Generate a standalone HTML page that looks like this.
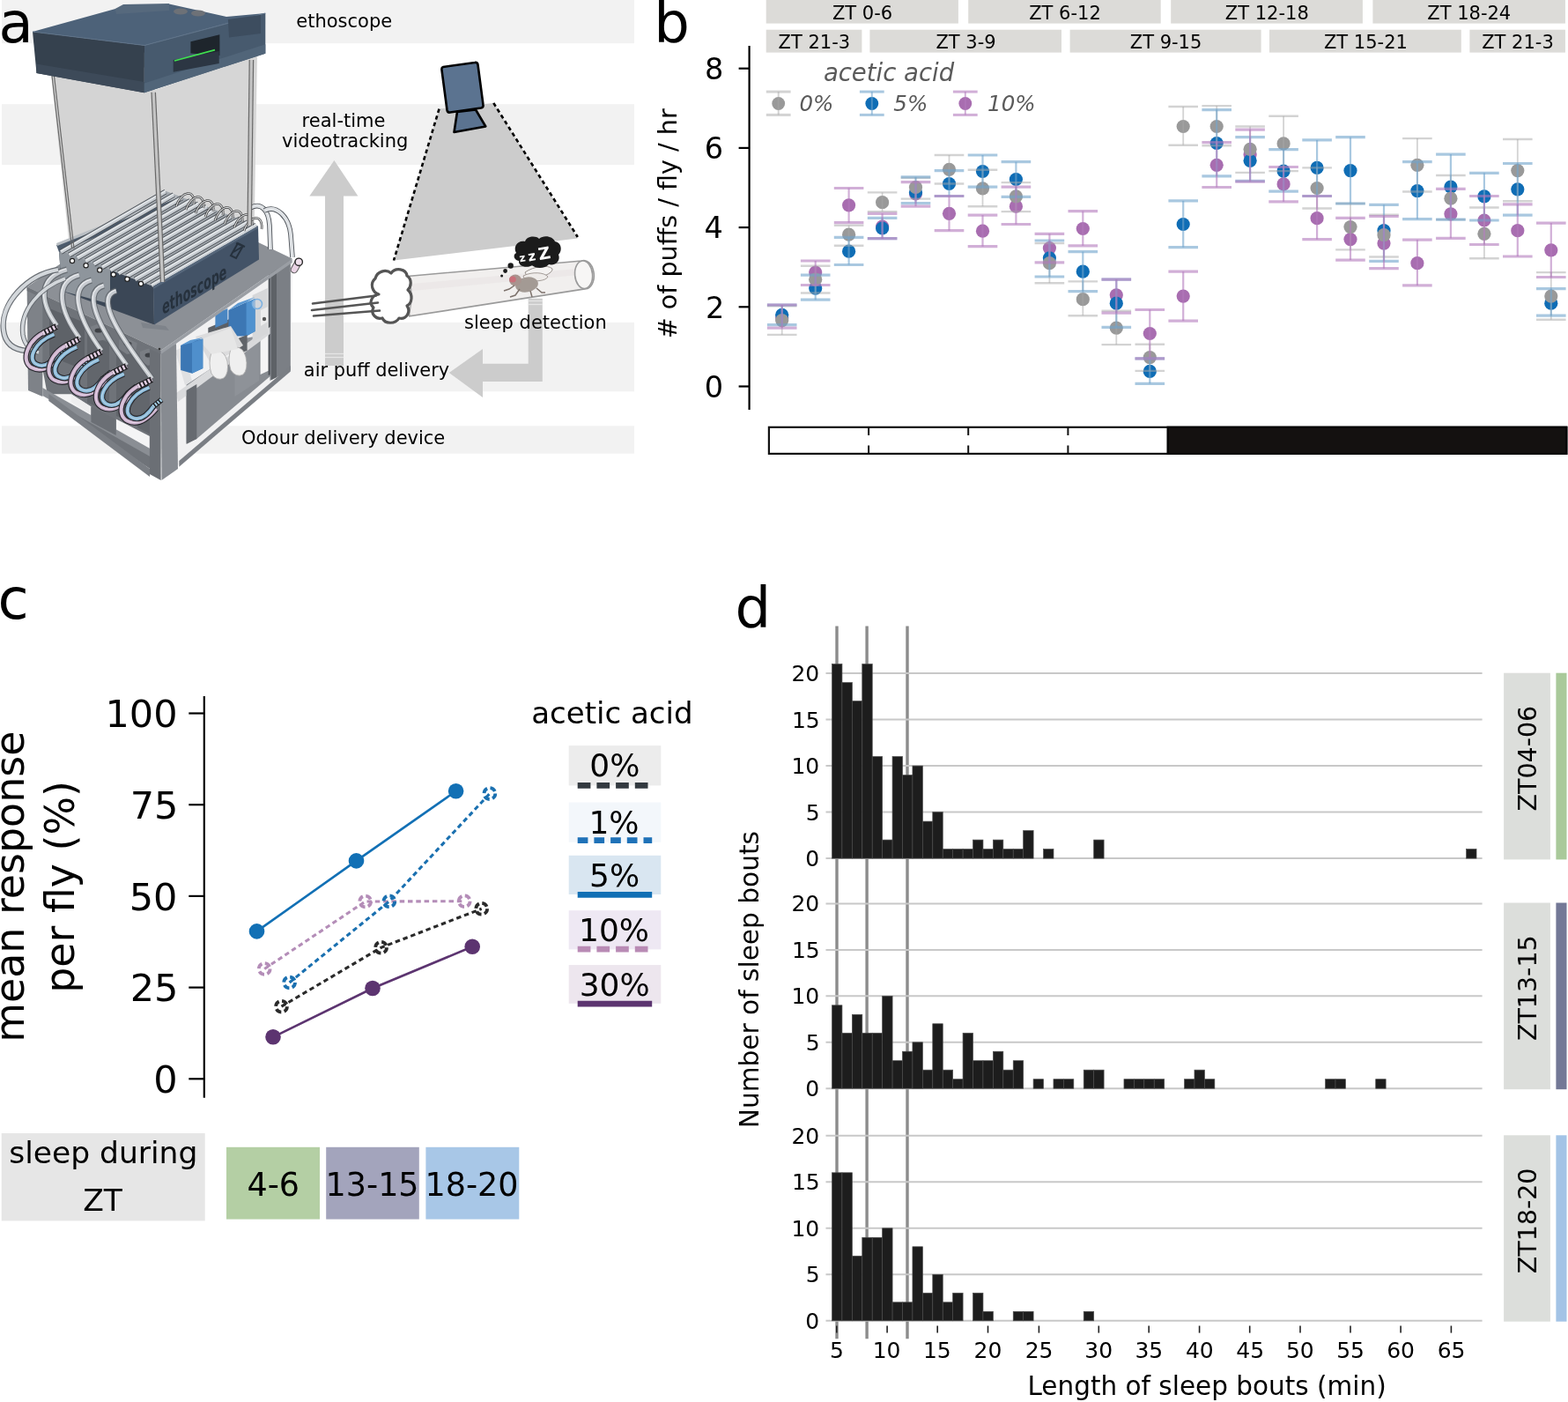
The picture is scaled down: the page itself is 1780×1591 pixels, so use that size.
<!DOCTYPE html>
<html><head><meta charset="utf-8"><title>Figure</title>
<style>
html,body{margin:0;padding:0;background:#fff;}
body{width:1780px;height:1591px;overflow:hidden;}
svg{display:block;}
svg text{font-family:'DejaVu Sans','Liberation Sans',sans-serif;}
</style></head><body>
<svg width="1780" height="1591" viewBox="0 0 1780 1591">
<rect x="0" y="0" width="1780" height="1591" fill="#ffffff"/>
<rect x="2.0" y="0.0" width="718.0" height="49.2" fill="#f2f2f2" />
<rect x="2.0" y="118.2" width="718.0" height="68.8" fill="#f2f2f2" />
<rect x="2.0" y="365.8" width="718.0" height="78.5" fill="#f2f2f2" />
<rect x="2.0" y="483.3" width="718.0" height="31.4" fill="#f2f2f2" />
<text x="-1.54" y="47.64" font-size="64.00" fill="#000" style="" >a</text>
<polygon points="498.5,123.6 560.3,116.9 655.8,270.5 447.0,295.5" fill="#cccccc" />
<line x1="498.5" y1="123.6" x2="447.0" y2="295.5" stroke="#000" stroke-width="2.6" stroke-dasharray="4.5,3.5"/>
<line x1="560.3" y1="116.9" x2="655.8" y2="269.0" stroke="#000" stroke-width="2.6" stroke-dasharray="4.5,3.5"/>
<path d="M503,76 L539,71 Q542,70.5 542.5,73.5 L548.5,119 Q549,122 546,122.5 L511,127.5 Q508,128 507.5,125 L501.5,79.5 Q501,76.5 503,76 Z" fill="#5b7390" stroke="#000" stroke-width="2.6" stroke-linejoin="round"/>
<path d="M519,127 L540,124.5 L551.3,143.5 L515.5,150 Z" fill="#5b7390" stroke="#000" stroke-width="2.6" stroke-linejoin="round"/>
<polygon points="351.3,222.5 379.4,182.0 406.4,222.5 390.0,222.5 390.0,415.0 369.0,415.0 369.0,222.5" fill="#cccccc" />
<polygon points="599.7,338.7 615.8,338.7 615.8,433.0 548.0,433.0 548.0,451.0 509.8,422.9 548.0,396.0 548.0,412.8 599.7,412.8" fill="#cccccc" />
<line x1="599.7" y1="341.5" x2="615.8" y2="341.5" stroke="#e6e6e6" stroke-width="1.2" />
<line x1="599.7" y1="345.5" x2="615.8" y2="345.5" stroke="#e6e6e6" stroke-width="1.2" />
<line x1="369.0" y1="401.5" x2="390.0" y2="401.5" stroke="#e6e6e6" stroke-width="1.2" />
<line x1="369.0" y1="405.5" x2="390.0" y2="405.5" stroke="#e6e6e6" stroke-width="1.2" />
<path d="M462.6,313.5 L660.3,296 A10.5,16 -5 0 1 667,327.4 L464.8,358.9 Z" fill="#f1efee" stroke="#9a9a9a" stroke-width="1.6"/>
<path d="M468,322 L655,305 L657,312 L468,330 Z" fill="#e9e6e5" opacity="0.7"/>
<ellipse cx="662.6" cy="311.7" rx="10" ry="15.8" transform="rotate(-5 662.6 311.7)" fill="#f7f6f5" stroke="#9a9a9a" stroke-width="1.6"/>
<ellipse cx="461" cy="336.4" rx="6" ry="22.5" fill="#f4f3f2" stroke="#aaaaaa" stroke-width="1.4"/>
<path d="M430,334 C423,332 419,322 426,316 C428,308 438,305 444,310 C449,303 461,305 462,313 C468,317 467,325 463,329 C469,334 468,344 462,347 C467,354 461,363 453,361 C449,368 437,368 434,361 C427,363 420,356 424,349 C418,344 422,335 430,334 Z" fill="#ffffff" stroke="#555" stroke-width="3.2" stroke-linejoin="round"/>
<line x1="355.0" y1="344.5" x2="427.0" y2="335.5" stroke="#555" stroke-width="2.6" stroke-linecap="round"/>
<line x1="354.0" y1="352.0" x2="429.0" y2="343.5" stroke="#555" stroke-width="2.6" stroke-linecap="round"/>
<line x1="356.0" y1="358.5" x2="431.0" y2="352.5" stroke="#555" stroke-width="2.6" stroke-linecap="round"/>
<g><path d="M596,309 C606,302 622,300 627,305 C628,310 614,316 600,317 Z" fill="#f4f2f1" stroke="#8f8782" stroke-width="0.9"/><path d="M594,313 C604,308 618,309 622,314 C620,319 606,320 596,318 Z" fill="#efecea" stroke="#8f8782" stroke-width="0.8"/><ellipse cx="598" cy="323" rx="13" ry="8.5" transform="rotate(-10 598 323)" fill="#a39a94"/><ellipse cx="585" cy="318" rx="7" ry="6.5" fill="#a8948f"/><ellipse cx="582" cy="317" rx="3.8" ry="3.6" fill="#c9707a"/><path d="M584,324 l-6,4 l-6,2 M590,328 l-5,7 l-6,2 M602,330 l2,7 M609,327 l6,5 l4,0" fill="none" stroke="#7d726c" stroke-width="1.5"/></g>
<path d="M586,287 C582,280 588,272 596,274 C598,268 608,267 612,271 C617,266 628,268 630,274 C637,275 639,284 634,289 C637,296 630,302 623,300 C619,305 608,305 604,301 C598,305 588,302 589,296 C583,295 582,289 586,287 Z" fill="#1b1b1b"/>
<circle cx="579.7" cy="301.5" r="3.2" fill="#1b1b1b"/>
<circle cx="573.6" cy="307.5" r="2.4" fill="#1b1b1b"/>
<circle cx="569.6" cy="313" r="1.5" fill="#1b1b1b"/>
<g transform="rotate(-10 608 288)" fill="#fff" font-weight="bold" style="font-family:'DejaVu Sans',sans-serif"><text x="589" y="294" font-size="12">z</text><text x="599" y="295" font-size="15">z</text><text x="611" y="296" font-size="19">Z</text></g>
<text x="336.25" y="30.60" font-size="21.00" fill="#000" style="" >ethoscope</text>
<text x="342.61" y="143.60" font-size="21.00" fill="#000" style="" >real-time</text>
<text x="320.07" y="167.40" font-size="21.00" fill="#000" style="" >videotracking</text>
<text x="526.95" y="373.30" font-size="21.00" fill="#000" style="" >sleep detection</text>
<text x="344.85" y="426.90" font-size="20.90" fill="#000" style="" >air puff delivery</text>
<text x="273.99" y="503.80" font-size="21.00" fill="#000" style="" >Odour delivery device</text>
<polygon points="58.0,84.0 175.0,100.0 183.0,330.0 81.0,300.0" fill="#d4d4d4" />
<polygon points="170.0,104.0 292.0,62.0 288.0,300.0 183.0,330.0" fill="#d6d6d6" />
<polygon points="182.0,399.0 332.0,294.0 330.0,422.0 200.0,530.0" fill="#f1f1f2" />
<polygon points="211.6,436.5 293.2,383.2 314.9,380.0 314.9,419.9 223.3,498.0 211.6,503.0" fill="#878b91" />
<polygon points="266.5,386.0 294.0,381.0 294.0,432.0 266.5,450.0" fill="#8e9298" />
<polygon points="295.6,372.5 304.7,368.0 304.7,420.7 295.6,425.0" fill="#f4f4f5" />
<polygon points="304.7,305.0 316.8,300.0 316.8,420.7 304.7,426.0" fill="#4b4f55" />
<polygon points="200.0,446.0 315.0,365.0 316.0,372.0 202.0,456.0" fill="#d9dadc" />
<polygon points="286.6,335.0 303.7,327.0 303.7,378.0 286.6,388.0" fill="#d6d7d9" />
<polygon points="296.0,352.0 304.0,348.0 304.0,365.0 296.0,370.0" fill="#ececed" />
<circle cx="300" cy="362" r="2.2" fill="#555"/>
<polygon points="236.3,372.0 260.5,362.0 260.5,386.0 236.3,396.0" fill="#5c6066" />
<ellipse cx="248.5" cy="380" rx="5.5" ry="6" fill="#dcdcdc" stroke="#444" stroke-width="1"/>
<polygon points="244.4,356.0 258.4,350.0 258.4,366.0 244.4,372.0" fill="#4a86c2" />
<polygon points="259.4,352.0 279.6,343.0 289.6,339.0 289.6,376.0 279.6,381.5 259.4,381.5" fill="#3c77b4" />
<polygon points="279.6,343.0 289.6,339.0 289.6,376.0 279.6,381.5" fill="#5092cf" />
<polygon points="259.4,352.0 270.0,344.0 289.6,337.0 279.6,343.0" fill="#5a98d2" />
<circle cx="292" cy="345" r="5.5" fill="#cfd6de" fill-opacity="0.6" stroke="#7fb2e0" stroke-width="1.6"/>
<polygon points="267.5,385.0 280.6,380.0 280.6,398.0 267.5,402.0" fill="#606469" />
<path d="M222,382 L262,370 L276,392 L240,414 Z" fill="#dcdcdd"/>
<path d="M240,400 Q236,412 240,424 Q246,433 254,429 Q260,424 258,410 Q255,398 246,398 Z" fill="#efefef" stroke="#a9a9a9" stroke-width="0.8"/>
<path d="M262,396 Q258,408 262,420 Q268,429 276,425 Q282,419 279,405 Q276,394 268,394 Z" fill="#efefef" stroke="#a9a9a9" stroke-width="0.8"/>
<path d="M226,386 L262,372 L270,396 L240,402 Z" fill="#e6e6e6"/>
<polygon points="199.0,398.0 207.0,394.0 218.0,432.0 210.0,437.0" fill="#dfe0e2" />
<polygon points="205.1,392.0 216.0,387.0 230.3,384.5 230.3,418.0 218.0,423.7 205.1,420.0" fill="#3c77b4" />
<polygon points="218.0,389.0 230.3,384.5 230.3,418.0 218.0,423.7" fill="#4f8fcc" />
<polygon points="205.1,392.0 216.0,386.0 230.3,383.0 218.0,389.0" fill="#5a98d2" />
<polygon points="211.6,443.0 223.3,436.0 223.3,498.0 211.6,504.0" fill="#666a70" />
<polygon points="306.5,305.0 329.8,293.0 329.8,419.9 306.5,432.0" fill="#7b7f85" />
<polygon points="308.0,306.0 314.0,303.0 314.0,428.0 308.0,431.0" fill="#5e6267" />
<polygon points="203.3,523.0 329.8,415.0 329.8,421.5 203.3,529.7" fill="#7a7e84" />
<polygon points="31.0,326.0 182.0,399.0 182.0,540.0 55.0,454.0" fill="#6f7379" />
<polygon points="48.3,447.3 80.8,447.3 103.4,461.4 103.4,475.0 55.0,454.0" fill="#f4f4f5" />
<polygon points="80.8,447.3 103.4,461.4 103.4,470.0 80.8,456.0" fill="#eeeeef" />
<polygon points="131.7,475.5 169.9,495.0 169.9,510.0 131.7,490.0" fill="#f4f4f5" />
<polygon points="99.0,379.0 124.0,389.0 124.0,467.0 99.0,457.0" fill="#62666c" />
<polygon points="102.0,371.0 113.0,367.0 124.0,373.0 122.0,385.0 111.0,387.0 102.0,381.0" fill="#7a7e84" />
<ellipse cx="112" cy="375" rx="4.5" ry="2.6" fill="#3e4146"/>
<polygon points="132.0,394.0 156.0,404.0 156.0,482.0 132.0,472.0" fill="#62666c" />
<polygon points="135.0,386.0 146.0,382.0 156.0,388.0 154.0,400.0 144.0,402.0 135.0,396.0" fill="#7a7e84" />
<ellipse cx="145" cy="390" rx="4.5" ry="2.6" fill="#3e4146"/>
<polygon points="156.0,407.0 174.0,417.0 174.0,495.0 156.0,485.0" fill="#62666c" />
<polygon points="159.0,399.0 170.0,395.0 174.0,401.0 172.0,413.0 168.0,415.0 159.0,409.0" fill="#7a7e84" />
<ellipse cx="169" cy="403" rx="4.5" ry="2.6" fill="#3e4146"/>
<polygon points="56.0,350.0 96.0,366.0 96.0,420.0 56.0,404.0" fill="#5e6268" />
<polygon points="30.6,325.7 48.3,334.0 48.3,450.0 32.0,443.0" fill="#7e8288" />
<polygon points="48.3,440.0 175.5,512.0 175.5,521.0 48.3,449.0" fill="#8a8e94" />
<polygon points="55.4,447.0 170.0,532.0 170.0,541.0 55.4,455.0" fill="#7a7e84" />
<polygon points="103.4,461.4 131.7,476.0 131.7,494.0 103.4,479.0" fill="#6b6f75" />
<polygon points="169.9,392.0 182.6,398.0 182.6,545.0 169.9,538.0" fill="#6b6f75" />
<polygon points="182.6,398.0 200.0,390.0 202.0,532.0 183.5,545.0" fill="#878b91" />
<polygon points="30.6,325.7 182.6,397.8 331.7,293.6 181.0,221.0" fill="#8c9096" />
<polygon points="30.6,325.7 182.6,397.8 182.6,402.0 30.6,330.0" fill="#6f7379" />
<polygon points="182.6,397.8 331.7,293.6 331.7,298.0 182.6,402.0" fill="#9a9ea4" />
<circle cx="181" cy="396" r="1.3" fill="#333"/>
<polygon points="67.0,284.0 174.0,325.0 175.0,368.5 70.0,330.0" fill="#3b4756" />
<polygon points="67.0,284.0 125.0,306.0 125.0,345.0 70.0,330.0" fill="#8e959c" />
<polygon points="67.0,284.0 186.0,216.0 293.0,256.5 174.0,325.0" fill="#a3a9af" />
<polygon points="64.0,278.0 200.0,224.0 202.0,231.0 67.0,286.0" fill="#4c5b6c" />
<polygon points="64.0,276.0 200.0,222.0 201.0,225.0 65.0,279.0" fill="#b9bec3" />
<polygon points="160.0,366.0 188.0,370.0 192.0,375.0 162.0,372.0" fill="#7e838a" />
<line x1="69.0" y1="286.0" x2="188.0" y2="217.5" stroke="#4b5056" stroke-width="6.0" />
<line x1="69.0" y1="286.0" x2="188.0" y2="217.5" stroke="#c9ced3" stroke-width="4.2" />
<line x1="69.0" y1="285.0" x2="188.0" y2="216.5" stroke="#e9ecee" stroke-width="1.2" />
<line x1="78.4" y1="289.5" x2="197.4" y2="221.0" stroke="#4b5056" stroke-width="6.0" />
<line x1="78.4" y1="289.5" x2="197.4" y2="221.0" stroke="#c9ced3" stroke-width="4.2" />
<line x1="78.4" y1="288.5" x2="197.4" y2="220.0" stroke="#e9ecee" stroke-width="1.2" />
<line x1="87.7" y1="292.9" x2="206.7" y2="224.4" stroke="#4b5056" stroke-width="6.0" />
<line x1="87.7" y1="292.9" x2="206.7" y2="224.4" stroke="#c9ced3" stroke-width="4.2" />
<line x1="87.7" y1="291.9" x2="206.7" y2="223.4" stroke="#e9ecee" stroke-width="1.2" />
<line x1="97.1" y1="296.4" x2="216.1" y2="227.9" stroke="#4b5056" stroke-width="6.0" />
<line x1="97.1" y1="296.4" x2="216.1" y2="227.9" stroke="#c9ced3" stroke-width="4.2" />
<line x1="97.1" y1="295.4" x2="216.1" y2="226.9" stroke="#e9ecee" stroke-width="1.2" />
<line x1="106.5" y1="299.8" x2="225.5" y2="231.3" stroke="#4b5056" stroke-width="6.0" />
<line x1="106.5" y1="299.8" x2="225.5" y2="231.3" stroke="#c9ced3" stroke-width="4.2" />
<line x1="106.5" y1="298.8" x2="225.5" y2="230.3" stroke="#e9ecee" stroke-width="1.2" />
<line x1="115.8" y1="303.3" x2="234.8" y2="234.8" stroke="#4b5056" stroke-width="6.0" />
<line x1="115.8" y1="303.3" x2="234.8" y2="234.8" stroke="#c9ced3" stroke-width="4.2" />
<line x1="115.8" y1="302.3" x2="234.8" y2="233.8" stroke="#e9ecee" stroke-width="1.2" />
<line x1="125.2" y1="306.7" x2="244.2" y2="238.2" stroke="#4b5056" stroke-width="6.0" />
<line x1="125.2" y1="306.7" x2="244.2" y2="238.2" stroke="#c9ced3" stroke-width="4.2" />
<line x1="125.2" y1="305.7" x2="244.2" y2="237.2" stroke="#e9ecee" stroke-width="1.2" />
<line x1="134.5" y1="310.2" x2="253.5" y2="241.7" stroke="#4b5056" stroke-width="6.0" />
<line x1="134.5" y1="310.2" x2="253.5" y2="241.7" stroke="#c9ced3" stroke-width="4.2" />
<line x1="134.5" y1="309.2" x2="253.5" y2="240.7" stroke="#e9ecee" stroke-width="1.2" />
<line x1="143.9" y1="313.6" x2="262.9" y2="245.1" stroke="#4b5056" stroke-width="6.0" />
<line x1="143.9" y1="313.6" x2="262.9" y2="245.1" stroke="#c9ced3" stroke-width="4.2" />
<line x1="143.9" y1="312.6" x2="262.9" y2="244.1" stroke="#e9ecee" stroke-width="1.2" />
<line x1="153.3" y1="317.1" x2="272.3" y2="248.6" stroke="#4b5056" stroke-width="6.0" />
<line x1="153.3" y1="317.1" x2="272.3" y2="248.6" stroke="#c9ced3" stroke-width="4.2" />
<line x1="153.3" y1="316.1" x2="272.3" y2="247.6" stroke="#e9ecee" stroke-width="1.2" />
<line x1="162.6" y1="320.5" x2="281.6" y2="252.0" stroke="#4b5056" stroke-width="6.0" />
<line x1="162.6" y1="320.5" x2="281.6" y2="252.0" stroke="#c9ced3" stroke-width="4.2" />
<line x1="162.6" y1="319.5" x2="281.6" y2="251.0" stroke="#e9ecee" stroke-width="1.2" />
<line x1="172.0" y1="324.0" x2="291.0" y2="255.5" stroke="#4b5056" stroke-width="6.0" />
<line x1="172.0" y1="324.0" x2="291.0" y2="255.5" stroke="#c9ced3" stroke-width="4.2" />
<line x1="172.0" y1="323.0" x2="291.0" y2="254.5" stroke="#e9ecee" stroke-width="1.2" />
<circle cx="82.0" cy="296.0" r="2.6" fill="#fff" stroke="#222" stroke-width="1.2"/>
<circle cx="97.6" cy="301.2" r="2.6" fill="#fff" stroke="#222" stroke-width="1.2"/>
<circle cx="113.2" cy="306.4" r="2.6" fill="#fff" stroke="#222" stroke-width="1.2"/>
<circle cx="128.8" cy="311.6" r="2.6" fill="#fff" stroke="#222" stroke-width="1.2"/>
<circle cx="144.4" cy="316.8" r="2.6" fill="#fff" stroke="#222" stroke-width="1.2"/>
<circle cx="160.0" cy="322.0" r="2.6" fill="#fff" stroke="#222" stroke-width="1.2"/>
<path d="M200,234.0 C206,216.0 222,214.0 220,232.0" fill="none" stroke="#3a3a3a" stroke-width="2.6"/>
<path d="M200,234.0 C206,216.0 222,214.0 220,232.0" fill="none" stroke="#d8dadc" stroke-width="1.2"/>
<path d="M211,238.0 C217,220.0 233,218.0 231,236.0" fill="none" stroke="#3a3a3a" stroke-width="2.6"/>
<path d="M211,238.0 C217,220.0 233,218.0 231,236.0" fill="none" stroke="#d8dadc" stroke-width="1.2"/>
<path d="M222,242.0 C228,224.0 244,222.0 242,240.0" fill="none" stroke="#3a3a3a" stroke-width="2.6"/>
<path d="M222,242.0 C228,224.0 244,222.0 242,240.0" fill="none" stroke="#d8dadc" stroke-width="1.2"/>
<path d="M233,246.0 C239,228.0 255,226.0 253,244.0" fill="none" stroke="#3a3a3a" stroke-width="2.6"/>
<path d="M233,246.0 C239,228.0 255,226.0 253,244.0" fill="none" stroke="#d8dadc" stroke-width="1.2"/>
<path d="M244,250.0 C250,232.0 266,230.0 264,248.0" fill="none" stroke="#3a3a3a" stroke-width="2.6"/>
<path d="M244,250.0 C250,232.0 266,230.0 264,248.0" fill="none" stroke="#d8dadc" stroke-width="1.2"/>
<path d="M255,254.0 C261,236.0 277,234.0 275,252.0" fill="none" stroke="#3a3a3a" stroke-width="2.6"/>
<path d="M255,254.0 C261,236.0 277,234.0 275,252.0" fill="none" stroke="#d8dadc" stroke-width="1.2"/>
<path d="M266,258.0 C272,240.0 288,238.0 286,256.0" fill="none" stroke="#3a3a3a" stroke-width="2.6"/>
<path d="M266,258.0 C272,240.0 288,238.0 286,256.0" fill="none" stroke="#d8dadc" stroke-width="1.2"/>
<path d="M277,262.0 C283,244.0 299,242.0 297,260.0" fill="none" stroke="#3a3a3a" stroke-width="2.6"/>
<path d="M277,262.0 C283,244.0 299,242.0 297,260.0" fill="none" stroke="#d8dadc" stroke-width="1.2"/>
<polygon points="174.0,325.0 293.0,256.5 294.0,294.4 175.0,368.5" fill="#435367" />
<polygon points="174.0,325.0 293.0,256.5 293.0,259.0 174.0,328.0" fill="#56677b" />
<text transform="translate(185,357) rotate(-30) skewX(-22) scale(1,1.35)" font-size="14.5" font-weight="bold" fill="#26313d" style="font-style:italic">ethoscope</text>
<path d="M262,290 l8,-14 l6,3 l-8,14 z M268,276 l10,4 M265,286 l10,-6" stroke="#26313d" stroke-width="2" fill="none"/>
<path d="M76,306 C46,314 42.5,339.4 64.5,369.4" fill="none" stroke="#5d6268" stroke-width="7" opacity="0.8"/>
<path d="M76,306 C46,314 42.5,339.4 64.5,369.4" fill="none" stroke="#cfd4d8" stroke-width="4.8" opacity="0.92"/>
<path d="M76,306 C46,314 42.5,339.4 64.5,369.4" fill="none" stroke="#eef0f2" stroke-width="1.2" opacity="0.9" transform="translate(-0.8,-1)"/>
<path d="M90,312 C60,320 68.3,353.7 90.3,383.7" fill="none" stroke="#5d6268" stroke-width="7" opacity="0.8"/>
<path d="M90,312 C60,320 68.3,353.7 90.3,383.7" fill="none" stroke="#cfd4d8" stroke-width="4.8" opacity="0.92"/>
<path d="M90,312 C60,320 68.3,353.7 90.3,383.7" fill="none" stroke="#eef0f2" stroke-width="1.2" opacity="0.9" transform="translate(-0.8,-1)"/>
<path d="M104,318 C74,326 93.2,368 115.2,398" fill="none" stroke="#5d6268" stroke-width="7" opacity="0.8"/>
<path d="M104,318 C74,326 93.2,368 115.2,398" fill="none" stroke="#cfd4d8" stroke-width="4.8" opacity="0.92"/>
<path d="M104,318 C74,326 93.2,368 115.2,398" fill="none" stroke="#eef0f2" stroke-width="1.2" opacity="0.9" transform="translate(-0.8,-1)"/>
<path d="M118,324 C88,332 121.80000000000001,384.3 143.8,414.3" fill="none" stroke="#5d6268" stroke-width="7" opacity="0.8"/>
<path d="M118,324 C88,332 121.80000000000001,384.3 143.8,414.3" fill="none" stroke="#cfd4d8" stroke-width="4.8" opacity="0.92"/>
<path d="M118,324 C88,332 121.80000000000001,384.3 143.8,414.3" fill="none" stroke="#eef0f2" stroke-width="1.2" opacity="0.9" transform="translate(-0.8,-1)"/>
<path d="M132,330 C102,338 150.5,399.6 172.5,429.6" fill="none" stroke="#5d6268" stroke-width="7" opacity="0.8"/>
<path d="M132,330 C102,338 150.5,399.6 172.5,429.6" fill="none" stroke="#cfd4d8" stroke-width="4.8" opacity="0.92"/>
<path d="M132,330 C102,338 150.5,399.6 172.5,429.6" fill="none" stroke="#eef0f2" stroke-width="1.2" opacity="0.9" transform="translate(-0.8,-1)"/>
<path d="M66,306 C30,312 0,345 4,375 C6,392 18,397 30,398" fill="none" stroke="#686d73" stroke-width="6.5"/>
<path d="M66,306 C30,312 0,345 4,375 C6,392 18,397 30,398" fill="none" stroke="#d3d7db" stroke-width="4.2"/>
<path d="M74,316 C46,326 22,352 26,380 C28,392 36,398 44,400" fill="none" stroke="#686d73" stroke-width="5.5"/>
<path d="M74,316 C46,326 22,352 26,380 C28,392 36,398 44,400" fill="none" stroke="#d3d7db" stroke-width="3.5"/>
<path d="M54.5,375.4 C30.5,384.4 22.5,410.4 36.5,417.4 C48.5,423.4 60.5,414.4 69.5,403.4" fill="none" stroke="#25262b" stroke-width="6.4"/>
<path d="M54.5,375.4 C30.5,384.4 22.5,410.4 36.5,417.4 C48.5,423.4 60.5,414.4 69.5,403.4" fill="none" stroke="#cdb3cf" stroke-width="4.2"/>
<path d="M54.5,375.4 C30.5,384.4 22.5,410.4 36.5,417.4 C48.5,423.4 60.5,414.4 69.5,403.4" fill="none" stroke="#ffffff" stroke-width="1" opacity="0.45"/>
<path d="M61.5,379.4 C38.5,388.4 30.5,408.4 41.5,413.4 C51.5,418.4 60.5,409.4 66.5,400.4" fill="none" stroke="#25262b" stroke-width="6.4"/>
<path d="M61.5,379.4 C38.5,388.4 30.5,408.4 41.5,413.4 C51.5,418.4 60.5,409.4 66.5,400.4" fill="none" stroke="#8ab9d8" stroke-width="4.2"/>
<path d="M61.5,379.4 C38.5,388.4 30.5,408.4 41.5,413.4 C51.5,418.4 60.5,409.4 66.5,400.4" fill="none" stroke="#ffffff" stroke-width="1" opacity="0.45"/>
<path d="M48.5,378.4 l16,-8" stroke="#1f1f22" stroke-width="7"/>
<path d="M48.5,378.4 l16,-8" stroke="#e4d0e4" stroke-width="5" stroke-dasharray="2.5,1.8"/>
<path d="M65.5,401.4 l10,-8" stroke="#1f1f22" stroke-width="6"/>
<path d="M65.5,401.4 l10,-8" stroke="#a6d0e6" stroke-width="4" stroke-dasharray="2,1.5"/>
<path d="M80.3,389.7 C56.3,398.7 48.3,424.7 62.3,431.7 C74.3,437.7 86.3,428.7 95.3,417.7" fill="none" stroke="#25262b" stroke-width="6.4"/>
<path d="M80.3,389.7 C56.3,398.7 48.3,424.7 62.3,431.7 C74.3,437.7 86.3,428.7 95.3,417.7" fill="none" stroke="#cdb3cf" stroke-width="4.2"/>
<path d="M80.3,389.7 C56.3,398.7 48.3,424.7 62.3,431.7 C74.3,437.7 86.3,428.7 95.3,417.7" fill="none" stroke="#ffffff" stroke-width="1" opacity="0.45"/>
<path d="M87.3,393.7 C64.3,402.7 56.3,422.7 67.3,427.7 C77.3,432.7 86.3,423.7 92.3,414.7" fill="none" stroke="#25262b" stroke-width="6.4"/>
<path d="M87.3,393.7 C64.3,402.7 56.3,422.7 67.3,427.7 C77.3,432.7 86.3,423.7 92.3,414.7" fill="none" stroke="#8ab9d8" stroke-width="4.2"/>
<path d="M87.3,393.7 C64.3,402.7 56.3,422.7 67.3,427.7 C77.3,432.7 86.3,423.7 92.3,414.7" fill="none" stroke="#ffffff" stroke-width="1" opacity="0.45"/>
<path d="M74.3,392.7 l16,-8" stroke="#1f1f22" stroke-width="7"/>
<path d="M74.3,392.7 l16,-8" stroke="#e4d0e4" stroke-width="5" stroke-dasharray="2.5,1.8"/>
<path d="M91.3,415.7 l10,-8" stroke="#1f1f22" stroke-width="6"/>
<path d="M91.3,415.7 l10,-8" stroke="#a6d0e6" stroke-width="4" stroke-dasharray="2,1.5"/>
<path d="M105.2,404 C81.2,413 73.2,439 87.2,446 C99.2,452 111.2,443 120.2,432" fill="none" stroke="#25262b" stroke-width="6.4"/>
<path d="M105.2,404 C81.2,413 73.2,439 87.2,446 C99.2,452 111.2,443 120.2,432" fill="none" stroke="#cdb3cf" stroke-width="4.2"/>
<path d="M105.2,404 C81.2,413 73.2,439 87.2,446 C99.2,452 111.2,443 120.2,432" fill="none" stroke="#ffffff" stroke-width="1" opacity="0.45"/>
<path d="M112.2,408 C89.2,417 81.2,437 92.2,442 C102.2,447 111.2,438 117.2,429" fill="none" stroke="#25262b" stroke-width="6.4"/>
<path d="M112.2,408 C89.2,417 81.2,437 92.2,442 C102.2,447 111.2,438 117.2,429" fill="none" stroke="#8ab9d8" stroke-width="4.2"/>
<path d="M112.2,408 C89.2,417 81.2,437 92.2,442 C102.2,447 111.2,438 117.2,429" fill="none" stroke="#ffffff" stroke-width="1" opacity="0.45"/>
<path d="M99.2,407 l16,-8" stroke="#1f1f22" stroke-width="7"/>
<path d="M99.2,407 l16,-8" stroke="#e4d0e4" stroke-width="5" stroke-dasharray="2.5,1.8"/>
<path d="M116.2,430 l10,-8" stroke="#1f1f22" stroke-width="6"/>
<path d="M116.2,430 l10,-8" stroke="#a6d0e6" stroke-width="4" stroke-dasharray="2,1.5"/>
<path d="M133.8,420.3 C109.8,429.3 101.8,455.3 115.8,462.3 C127.8,468.3 139.8,459.3 148.8,448.3" fill="none" stroke="#25262b" stroke-width="6.4"/>
<path d="M133.8,420.3 C109.8,429.3 101.8,455.3 115.8,462.3 C127.8,468.3 139.8,459.3 148.8,448.3" fill="none" stroke="#cdb3cf" stroke-width="4.2"/>
<path d="M133.8,420.3 C109.8,429.3 101.8,455.3 115.8,462.3 C127.8,468.3 139.8,459.3 148.8,448.3" fill="none" stroke="#ffffff" stroke-width="1" opacity="0.45"/>
<path d="M140.8,424.3 C117.8,433.3 109.8,453.3 120.8,458.3 C130.8,463.3 139.8,454.3 145.8,445.3" fill="none" stroke="#25262b" stroke-width="6.4"/>
<path d="M140.8,424.3 C117.8,433.3 109.8,453.3 120.8,458.3 C130.8,463.3 139.8,454.3 145.8,445.3" fill="none" stroke="#8ab9d8" stroke-width="4.2"/>
<path d="M140.8,424.3 C117.8,433.3 109.8,453.3 120.8,458.3 C130.8,463.3 139.8,454.3 145.8,445.3" fill="none" stroke="#ffffff" stroke-width="1" opacity="0.45"/>
<path d="M127.8,423.3 l16,-8" stroke="#1f1f22" stroke-width="7"/>
<path d="M127.8,423.3 l16,-8" stroke="#e4d0e4" stroke-width="5" stroke-dasharray="2.5,1.8"/>
<path d="M144.8,446.3 l10,-8" stroke="#1f1f22" stroke-width="6"/>
<path d="M144.8,446.3 l10,-8" stroke="#a6d0e6" stroke-width="4" stroke-dasharray="2,1.5"/>
<path d="M162.5,435.6 C138.5,444.6 130.5,470.6 144.5,477.6 C156.5,483.6 168.5,474.6 177.5,463.6" fill="none" stroke="#25262b" stroke-width="6.4"/>
<path d="M162.5,435.6 C138.5,444.6 130.5,470.6 144.5,477.6 C156.5,483.6 168.5,474.6 177.5,463.6" fill="none" stroke="#cdb3cf" stroke-width="4.2"/>
<path d="M162.5,435.6 C138.5,444.6 130.5,470.6 144.5,477.6 C156.5,483.6 168.5,474.6 177.5,463.6" fill="none" stroke="#ffffff" stroke-width="1" opacity="0.45"/>
<path d="M169.5,439.6 C146.5,448.6 138.5,468.6 149.5,473.6 C159.5,478.6 168.5,469.6 174.5,460.6" fill="none" stroke="#25262b" stroke-width="6.4"/>
<path d="M169.5,439.6 C146.5,448.6 138.5,468.6 149.5,473.6 C159.5,478.6 168.5,469.6 174.5,460.6" fill="none" stroke="#8ab9d8" stroke-width="4.2"/>
<path d="M169.5,439.6 C146.5,448.6 138.5,468.6 149.5,473.6 C159.5,478.6 168.5,469.6 174.5,460.6" fill="none" stroke="#ffffff" stroke-width="1" opacity="0.45"/>
<path d="M156.5,438.6 l16,-8" stroke="#1f1f22" stroke-width="7"/>
<path d="M156.5,438.6 l16,-8" stroke="#e4d0e4" stroke-width="5" stroke-dasharray="2.5,1.8"/>
<path d="M173.5,461.6 l10,-8" stroke="#1f1f22" stroke-width="6"/>
<path d="M173.5,461.6 l10,-8" stroke="#a6d0e6" stroke-width="4" stroke-dasharray="2,1.5"/>
<path d="M334,306 l5,-9" stroke="#5a5a5a" stroke-width="8.5" stroke-linecap="round"/>
<path d="M334,306 l5,-9" stroke="#e9d3e4" stroke-width="6.5" stroke-linecap="round"/>
<circle cx="339.2" cy="297.3" r="4.2" fill="#efe0ec" stroke="#2a2a2a" stroke-width="1.4"/>
<path d="M284,236 C296,229 305,238 306,256 L307,283" fill="none" stroke="#4d5258" stroke-width="5.6"/>
<path d="M284,236 C296,229 305,238 306,256 L307,283" fill="none" stroke="#dfe2e5" stroke-width="3.8"/>
<path d="M300,239 C314,232 328,246 330,266 L332,292" fill="none" stroke="#4d5258" stroke-width="5.6"/>
<path d="M300,239 C314,232 328,246 330,266 L332,292" fill="none" stroke="#dfe2e5" stroke-width="3.8"/>
<polygon points="172,104.8 176.4,104.8 186.8,320 182.4,320" fill="#c4c4c4"/>
<polygon points="283.2,68 287.6,68 285.4,256 281,256" fill="#c4c4c4"/>
<line x1="59.0" y1="86.0" x2="81.6" y2="282.0" stroke="#686868" stroke-width="1.2" />
<line x1="61.5" y1="86.0" x2="84.0" y2="282.0" stroke="#686868" stroke-width="1.2" />
<line x1="172.0" y1="104.8" x2="182.4" y2="320.0" stroke="#686868" stroke-width="1.2" />
<line x1="176.4" y1="104.8" x2="186.8" y2="320.0" stroke="#686868" stroke-width="1.2" />
<line x1="283.2" y1="68.0" x2="281.0" y2="256.0" stroke="#686868" stroke-width="1.2" />
<line x1="287.6" y1="68.0" x2="285.4" y2="256.0" stroke="#686868" stroke-width="1.2" />
<polygon points="37.0,36.0 131.0,10.0 192.0,4.5 257.0,19.0 301.3,15.0 164.0,51.5" fill="#4d6279" />
<polygon points="37.0,36.0 164.0,51.5 163.8,105.2 41.5,83.0" fill="#35414e" />
<polygon points="41.0,72.4 163.8,93.0 163.8,105.2 41.5,83.0" fill="#3d4a59" />
<polygon points="164.0,51.5 301.3,15.0 301.3,60.7 163.8,105.2" fill="#475a6e" />
<polygon points="163.8,94.4 301.3,50.3 301.3,60.7 163.8,105.2" fill="#516579" />
<line x1="37.0" y1="36.0" x2="164.0" y2="51.5" stroke="#5e7288" stroke-width="1.2" />
<line x1="164.0" y1="51.5" x2="301.3" y2="15.0" stroke="#5e7288" stroke-width="1.2" />
<polygon points="216.4,47.2 249.4,39.3 249.4,62.9 216.4,60.6" fill="#1e252c" />
<polygon points="196.7,68.0 248.7,58.0 248.7,72.0 196.7,81.8" fill="#2c3643" />
<line x1="198.0" y1="69.0" x2="244.0" y2="56.6" stroke="#40e050" stroke-width="1.8" />
<polygon points="258.9,22.0 296.0,17.0 296.0,38.0 260.0,42.5" fill="#3d4d5f" />
<polygon points="130.7,10.0 140.0,5.0 192.0,4.0 192.0,12.0 132.0,16.0" fill="#56697d" />
<ellipse cx="205" cy="13" rx="8" ry="3.5" fill="#6d7177"/><ellipse cx="225" cy="15" rx="8" ry="3.5" fill="#6d7177"/>
<text x="742.24" y="47.84" font-size="64.00" fill="#000" style="" >b</text>
<rect x="869.7" y="0.0" width="218.2" height="26.6" fill="#dcdbd8" />
<text x="944.91" y="21.60" font-size="21.00" fill="#000" style="" >ZT 0-6</text>
<rect x="1099.2" y="0.0" width="218.5" height="26.6" fill="#dcdbd8" />
<text x="1168.24" y="21.60" font-size="21.00" fill="#000" style="" >ZT 6-12</text>
<rect x="1329.2" y="0.0" width="217.7" height="26.6" fill="#dcdbd8" />
<text x="1390.85" y="21.60" font-size="21.00" fill="#000" style="" >ZT 12-18</text>
<rect x="1558.4" y="0.0" width="218.5" height="26.6" fill="#dcdbd8" />
<text x="1620.32" y="21.60" font-size="21.00" fill="#000" style="" >ZT 18-24</text>
<rect x="869.7" y="33.7" width="108.7" height="25.9" fill="#dcdbd8" />
<text x="883.62" y="54.60" font-size="21.00" fill="#000" style="" >ZT 21-3</text>
<rect x="987.4" y="33.7" width="217.6" height="25.9" fill="#dcdbd8" />
<text x="1062.39" y="54.60" font-size="21.00" fill="#000" style="" >ZT 3-9</text>
<rect x="1214.6" y="33.7" width="217.0" height="25.9" fill="#dcdbd8" />
<text x="1282.75" y="54.60" font-size="21.00" fill="#000" style="" >ZT 9-15</text>
<rect x="1441.0" y="33.7" width="217.8" height="25.9" fill="#dcdbd8" />
<text x="1502.94" y="54.60" font-size="21.00" fill="#000" style="" >ZT 15-21</text>
<rect x="1668.4" y="33.7" width="108.5" height="25.9" fill="#dcdbd8" />
<text x="1682.23" y="54.60" font-size="21.00" fill="#000" style="" >ZT 21-3</text>
<line x1="850.6" y1="52.0" x2="850.6" y2="465.0" stroke="#000" stroke-width="2.2" />
<line x1="838.6" y1="438.5" x2="851.0" y2="438.5" stroke="#000" stroke-width="2.2" />
<text x="799.80" y="450.69" font-size="33.50" fill="#000" style="" >0</text>
<line x1="838.6" y1="348.3" x2="851.0" y2="348.3" stroke="#000" stroke-width="2.2" />
<text x="800.89" y="360.74" font-size="33.50" fill="#000" style="" >2</text>
<line x1="838.6" y1="258.1" x2="851.0" y2="258.1" stroke="#000" stroke-width="2.2" />
<text x="799.47" y="270.33" font-size="33.50" fill="#000" style="" >4</text>
<line x1="838.6" y1="167.9" x2="851.0" y2="167.9" stroke="#000" stroke-width="2.2" />
<text x="799.72" y="180.09" font-size="33.50" fill="#000" style="" >6</text>
<line x1="838.6" y1="77.7" x2="851.0" y2="77.7" stroke="#000" stroke-width="2.2" />
<text x="799.89" y="89.89" font-size="33.50" fill="#000" style="" >8</text>
<text transform="translate(767.84,384.32) rotate(-90)" x="0" y="0" font-size="28.60" fill="#000"># of puffs / fly / hr</text>
<circle cx="887.7" cy="360.9" r="7.6" fill="#a86db0"/>
<circle cx="925.7" cy="309.1" r="7.6" fill="#a86db0"/>
<circle cx="963.6" cy="232.8" r="7.6" fill="#a86db0"/>
<circle cx="1001.6" cy="257.2" r="7.6" fill="#a86db0"/>
<circle cx="1039.5" cy="219.8" r="7.6" fill="#a86db0"/>
<circle cx="1077.5" cy="242.3" r="7.6" fill="#a86db0"/>
<circle cx="1115.5" cy="262.2" r="7.6" fill="#a86db0"/>
<circle cx="1153.4" cy="234.2" r="7.6" fill="#a86db0"/>
<circle cx="1191.4" cy="281.6" r="7.6" fill="#a86db0"/>
<circle cx="1229.3" cy="259.5" r="7.6" fill="#a86db0"/>
<circle cx="1267.3" cy="334.8" r="7.6" fill="#a86db0"/>
<circle cx="1305.3" cy="378.5" r="7.6" fill="#a86db0"/>
<circle cx="1343.2" cy="336.1" r="7.6" fill="#a86db0"/>
<circle cx="1381.2" cy="187.3" r="7.6" fill="#a86db0"/>
<circle cx="1419.1" cy="175.6" r="7.6" fill="#a86db0"/>
<circle cx="1457.1" cy="208.9" r="7.6" fill="#a86db0"/>
<circle cx="1495.1" cy="247.7" r="7.6" fill="#a86db0"/>
<circle cx="1533.0" cy="271.6" r="7.6" fill="#a86db0"/>
<circle cx="1571.0" cy="276.1" r="7.6" fill="#a86db0"/>
<circle cx="1608.9" cy="298.7" r="7.6" fill="#a86db0"/>
<circle cx="1646.9" cy="242.8" r="7.6" fill="#a86db0"/>
<circle cx="1684.9" cy="250.0" r="7.6" fill="#a86db0"/>
<circle cx="1722.8" cy="261.7" r="7.6" fill="#a86db0"/>
<circle cx="1760.8" cy="283.8" r="7.6" fill="#a86db0"/>
<circle cx="887.7" cy="357.3" r="7.6" fill="#0f6db5"/>
<circle cx="925.7" cy="327.1" r="7.6" fill="#0f6db5"/>
<circle cx="963.6" cy="285.2" r="7.6" fill="#0f6db5"/>
<circle cx="1001.6" cy="259.0" r="7.6" fill="#0f6db5"/>
<circle cx="1039.5" cy="218.4" r="7.6" fill="#0f6db5"/>
<circle cx="1077.5" cy="208.5" r="7.6" fill="#0f6db5"/>
<circle cx="1115.5" cy="194.5" r="7.6" fill="#0f6db5"/>
<circle cx="1153.4" cy="203.5" r="7.6" fill="#0f6db5"/>
<circle cx="1191.4" cy="292.8" r="7.6" fill="#0f6db5"/>
<circle cx="1229.3" cy="308.2" r="7.6" fill="#0f6db5"/>
<circle cx="1267.3" cy="344.2" r="7.6" fill="#0f6db5"/>
<circle cx="1305.3" cy="421.4" r="7.6" fill="#0f6db5"/>
<circle cx="1343.2" cy="254.5" r="7.6" fill="#0f6db5"/>
<circle cx="1381.2" cy="162.5" r="7.6" fill="#0f6db5"/>
<circle cx="1419.1" cy="182.3" r="7.6" fill="#0f6db5"/>
<circle cx="1457.1" cy="194.1" r="7.6" fill="#0f6db5"/>
<circle cx="1495.1" cy="190.4" r="7.6" fill="#0f6db5"/>
<circle cx="1533.0" cy="193.6" r="7.6" fill="#0f6db5"/>
<circle cx="1571.0" cy="261.7" r="7.6" fill="#0f6db5"/>
<circle cx="1608.9" cy="216.6" r="7.6" fill="#0f6db5"/>
<circle cx="1646.9" cy="212.1" r="7.6" fill="#0f6db5"/>
<circle cx="1684.9" cy="222.9" r="7.6" fill="#0f6db5"/>
<circle cx="1722.8" cy="214.8" r="7.6" fill="#0f6db5"/>
<circle cx="1760.8" cy="344.2" r="7.6" fill="#0f6db5"/>
<circle cx="887.7" cy="363.6" r="7.6" fill="#999999"/>
<circle cx="925.7" cy="317.2" r="7.6" fill="#999999"/>
<circle cx="963.6" cy="266.2" r="7.6" fill="#999999"/>
<circle cx="1001.6" cy="229.7" r="7.6" fill="#999999"/>
<circle cx="1039.5" cy="212.5" r="7.6" fill="#999999"/>
<circle cx="1077.5" cy="192.3" r="7.6" fill="#999999"/>
<circle cx="1115.5" cy="213.9" r="7.6" fill="#999999"/>
<circle cx="1153.4" cy="222.9" r="7.6" fill="#999999"/>
<circle cx="1191.4" cy="298.7" r="7.6" fill="#999999"/>
<circle cx="1229.3" cy="339.7" r="7.6" fill="#999999"/>
<circle cx="1267.3" cy="372.2" r="7.6" fill="#999999"/>
<circle cx="1305.3" cy="405.6" r="7.6" fill="#999999"/>
<circle cx="1343.2" cy="143.5" r="7.6" fill="#999999"/>
<circle cx="1381.2" cy="143.5" r="7.6" fill="#999999"/>
<circle cx="1419.1" cy="169.3" r="7.6" fill="#999999"/>
<circle cx="1457.1" cy="162.9" r="7.6" fill="#999999"/>
<circle cx="1495.1" cy="213.5" r="7.6" fill="#999999"/>
<circle cx="1533.0" cy="257.6" r="7.6" fill="#999999"/>
<circle cx="1571.0" cy="266.7" r="7.6" fill="#999999"/>
<circle cx="1608.9" cy="187.3" r="7.6" fill="#999999"/>
<circle cx="1646.9" cy="225.2" r="7.6" fill="#999999"/>
<circle cx="1684.9" cy="265.3" r="7.6" fill="#999999"/>
<circle cx="1722.8" cy="193.6" r="7.6" fill="#999999"/>
<circle cx="1760.8" cy="336.1" r="7.6" fill="#999999"/>
<g stroke="#a8a8a8" stroke-opacity="0.5"><line x1="887.7" y1="347.4" x2="887.7" y2="379.9" stroke-width="1.8"/><line x1="870.9" y1="347.4" x2="904.5" y2="347.4" stroke-width="2.4"/><line x1="870.9" y1="379.9" x2="904.5" y2="379.9" stroke-width="2.4"/></g>
<g stroke="#a8a8a8" stroke-opacity="0.5"><line x1="925.7" y1="301.8" x2="925.7" y2="332.5" stroke-width="1.8"/><line x1="908.9" y1="301.8" x2="942.5" y2="301.8" stroke-width="2.4"/><line x1="908.9" y1="332.5" x2="942.5" y2="332.5" stroke-width="2.4"/></g>
<g stroke="#a8a8a8" stroke-opacity="0.5"><line x1="963.6" y1="255.8" x2="963.6" y2="278.8" stroke-width="1.8"/><line x1="946.8" y1="255.8" x2="980.4" y2="255.8" stroke-width="2.4"/><line x1="946.8" y1="278.8" x2="980.4" y2="278.8" stroke-width="2.4"/></g>
<g stroke="#a8a8a8" stroke-opacity="0.5"><line x1="1001.6" y1="218.4" x2="1001.6" y2="240.1" stroke-width="1.8"/><line x1="984.8" y1="218.4" x2="1018.4" y2="218.4" stroke-width="2.4"/><line x1="984.8" y1="240.1" x2="1018.4" y2="240.1" stroke-width="2.4"/></g>
<g stroke="#a8a8a8" stroke-opacity="0.5"><line x1="1039.5" y1="201.7" x2="1039.5" y2="225.6" stroke-width="1.8"/><line x1="1022.7" y1="201.7" x2="1056.3" y2="201.7" stroke-width="2.4"/><line x1="1022.7" y1="225.6" x2="1056.3" y2="225.6" stroke-width="2.4"/></g>
<g stroke="#a8a8a8" stroke-opacity="0.5"><line x1="1077.5" y1="176.0" x2="1077.5" y2="208.5" stroke-width="1.8"/><line x1="1060.7" y1="176.0" x2="1094.3" y2="176.0" stroke-width="2.4"/><line x1="1060.7" y1="208.5" x2="1094.3" y2="208.5" stroke-width="2.4"/></g>
<g stroke="#a8a8a8" stroke-opacity="0.5"><line x1="1115.5" y1="192.7" x2="1115.5" y2="234.2" stroke-width="1.8"/><line x1="1098.7" y1="192.7" x2="1132.3" y2="192.7" stroke-width="2.4"/><line x1="1098.7" y1="234.2" x2="1132.3" y2="234.2" stroke-width="2.4"/></g>
<g stroke="#a8a8a8" stroke-opacity="0.5"><line x1="1153.4" y1="207.1" x2="1153.4" y2="240.1" stroke-width="1.8"/><line x1="1136.6" y1="207.1" x2="1170.2" y2="207.1" stroke-width="2.4"/><line x1="1136.6" y1="240.1" x2="1170.2" y2="240.1" stroke-width="2.4"/></g>
<g stroke="#a8a8a8" stroke-opacity="0.5"><line x1="1191.4" y1="276.1" x2="1191.4" y2="321.2" stroke-width="1.8"/><line x1="1174.6" y1="276.1" x2="1208.2" y2="276.1" stroke-width="2.4"/><line x1="1174.6" y1="321.2" x2="1208.2" y2="321.2" stroke-width="2.4"/></g>
<g stroke="#a8a8a8" stroke-opacity="0.5"><line x1="1229.3" y1="319.4" x2="1229.3" y2="358.2" stroke-width="1.8"/><line x1="1212.5" y1="319.4" x2="1246.1" y2="319.4" stroke-width="2.4"/><line x1="1212.5" y1="358.2" x2="1246.1" y2="358.2" stroke-width="2.4"/></g>
<g stroke="#a8a8a8" stroke-opacity="0.5"><line x1="1267.3" y1="352.8" x2="1267.3" y2="391.1" stroke-width="1.8"/><line x1="1250.5" y1="352.8" x2="1284.1" y2="352.8" stroke-width="2.4"/><line x1="1250.5" y1="391.1" x2="1284.1" y2="391.1" stroke-width="2.4"/></g>
<g stroke="#a8a8a8" stroke-opacity="0.5"><line x1="1305.3" y1="390.7" x2="1305.3" y2="420.9" stroke-width="1.8"/><line x1="1288.5" y1="390.7" x2="1322.1" y2="390.7" stroke-width="2.4"/><line x1="1288.5" y1="420.9" x2="1322.1" y2="420.9" stroke-width="2.4"/></g>
<g stroke="#a8a8a8" stroke-opacity="0.5"><line x1="1343.2" y1="121.0" x2="1343.2" y2="164.7" stroke-width="1.8"/><line x1="1326.4" y1="121.0" x2="1360.0" y2="121.0" stroke-width="2.4"/><line x1="1326.4" y1="164.7" x2="1360.0" y2="164.7" stroke-width="2.4"/></g>
<g stroke="#a8a8a8" stroke-opacity="0.5"><line x1="1381.2" y1="120.1" x2="1381.2" y2="165.2" stroke-width="1.8"/><line x1="1364.4" y1="120.1" x2="1398.0" y2="120.1" stroke-width="2.4"/><line x1="1364.4" y1="165.2" x2="1398.0" y2="165.2" stroke-width="2.4"/></g>
<g stroke="#a8a8a8" stroke-opacity="0.5"><line x1="1419.1" y1="143.5" x2="1419.1" y2="195.9" stroke-width="1.8"/><line x1="1402.3" y1="143.5" x2="1435.9" y2="143.5" stroke-width="2.4"/><line x1="1402.3" y1="195.9" x2="1435.9" y2="195.9" stroke-width="2.4"/></g>
<g stroke="#a8a8a8" stroke-opacity="0.5"><line x1="1457.1" y1="131.8" x2="1457.1" y2="194.1" stroke-width="1.8"/><line x1="1440.3" y1="131.8" x2="1473.9" y2="131.8" stroke-width="2.4"/><line x1="1440.3" y1="194.1" x2="1473.9" y2="194.1" stroke-width="2.4"/></g>
<g stroke="#a8a8a8" stroke-opacity="0.5"><line x1="1495.1" y1="190.4" x2="1495.1" y2="236.5" stroke-width="1.8"/><line x1="1478.3" y1="190.4" x2="1511.9" y2="190.4" stroke-width="2.4"/><line x1="1478.3" y1="236.5" x2="1511.9" y2="236.5" stroke-width="2.4"/></g>
<g stroke="#a8a8a8" stroke-opacity="0.5"><line x1="1533.0" y1="231.0" x2="1533.0" y2="283.4" stroke-width="1.8"/><line x1="1516.2" y1="231.0" x2="1549.8" y2="231.0" stroke-width="2.4"/><line x1="1516.2" y1="283.4" x2="1549.8" y2="283.4" stroke-width="2.4"/></g>
<g stroke="#a8a8a8" stroke-opacity="0.5"><line x1="1571.0" y1="243.7" x2="1571.0" y2="291.5" stroke-width="1.8"/><line x1="1554.2" y1="243.7" x2="1587.8" y2="243.7" stroke-width="2.4"/><line x1="1554.2" y1="291.5" x2="1587.8" y2="291.5" stroke-width="2.4"/></g>
<g stroke="#a8a8a8" stroke-opacity="0.5"><line x1="1608.9" y1="157.1" x2="1608.9" y2="217.5" stroke-width="1.8"/><line x1="1592.1" y1="157.1" x2="1625.7" y2="157.1" stroke-width="2.4"/><line x1="1592.1" y1="217.5" x2="1625.7" y2="217.5" stroke-width="2.4"/></g>
<g stroke="#a8a8a8" stroke-opacity="0.5"><line x1="1646.9" y1="199.0" x2="1646.9" y2="249.1" stroke-width="1.8"/><line x1="1630.1" y1="199.0" x2="1663.7" y2="199.0" stroke-width="2.4"/><line x1="1630.1" y1="249.1" x2="1663.7" y2="249.1" stroke-width="2.4"/></g>
<g stroke="#a8a8a8" stroke-opacity="0.5"><line x1="1684.9" y1="235.5" x2="1684.9" y2="293.3" stroke-width="1.8"/><line x1="1668.1" y1="235.5" x2="1701.7" y2="235.5" stroke-width="2.4"/><line x1="1668.1" y1="293.3" x2="1701.7" y2="293.3" stroke-width="2.4"/></g>
<g stroke="#a8a8a8" stroke-opacity="0.5"><line x1="1722.8" y1="158.0" x2="1722.8" y2="228.3" stroke-width="1.8"/><line x1="1706.0" y1="158.0" x2="1739.6" y2="158.0" stroke-width="2.4"/><line x1="1706.0" y1="228.3" x2="1739.6" y2="228.3" stroke-width="2.4"/></g>
<g stroke="#a8a8a8" stroke-opacity="0.5"><line x1="1760.8" y1="309.1" x2="1760.8" y2="362.7" stroke-width="1.8"/><line x1="1744.0" y1="309.1" x2="1777.6" y2="309.1" stroke-width="2.4"/><line x1="1744.0" y1="362.7" x2="1777.6" y2="362.7" stroke-width="2.4"/></g>
<g stroke="#6fa3cc" stroke-opacity="0.6"><line x1="887.7" y1="346.0" x2="887.7" y2="368.6" stroke-width="2.2"/><line x1="870.9" y1="346.0" x2="904.5" y2="346.0" stroke-width="3.2"/><line x1="870.9" y1="368.6" x2="904.5" y2="368.6" stroke-width="3.2"/></g>
<g stroke="#6fa3cc" stroke-opacity="0.6"><line x1="925.7" y1="312.2" x2="925.7" y2="340.2" stroke-width="2.2"/><line x1="908.9" y1="312.2" x2="942.5" y2="312.2" stroke-width="3.2"/><line x1="908.9" y1="340.2" x2="942.5" y2="340.2" stroke-width="3.2"/></g>
<g stroke="#6fa3cc" stroke-opacity="0.6"><line x1="963.6" y1="269.4" x2="963.6" y2="300.5" stroke-width="2.2"/><line x1="946.8" y1="269.4" x2="980.4" y2="269.4" stroke-width="3.2"/><line x1="946.8" y1="300.5" x2="980.4" y2="300.5" stroke-width="3.2"/></g>
<g stroke="#6fa3cc" stroke-opacity="0.6"><line x1="1001.6" y1="247.3" x2="1001.6" y2="270.7" stroke-width="2.2"/><line x1="984.8" y1="247.3" x2="1018.4" y2="247.3" stroke-width="3.2"/><line x1="984.8" y1="270.7" x2="1018.4" y2="270.7" stroke-width="3.2"/></g>
<g stroke="#6fa3cc" stroke-opacity="0.6"><line x1="1039.5" y1="200.8" x2="1039.5" y2="230.6" stroke-width="2.2"/><line x1="1022.7" y1="200.8" x2="1056.3" y2="200.8" stroke-width="3.2"/><line x1="1022.7" y1="230.6" x2="1056.3" y2="230.6" stroke-width="3.2"/></g>
<g stroke="#6fa3cc" stroke-opacity="0.6"><line x1="1077.5" y1="193.6" x2="1077.5" y2="222.5" stroke-width="2.2"/><line x1="1060.7" y1="193.6" x2="1094.3" y2="193.6" stroke-width="3.2"/><line x1="1060.7" y1="222.5" x2="1094.3" y2="222.5" stroke-width="3.2"/></g>
<g stroke="#6fa3cc" stroke-opacity="0.6"><line x1="1115.5" y1="176.0" x2="1115.5" y2="212.1" stroke-width="2.2"/><line x1="1098.7" y1="176.0" x2="1132.3" y2="176.0" stroke-width="3.2"/><line x1="1098.7" y1="212.1" x2="1132.3" y2="212.1" stroke-width="3.2"/></g>
<g stroke="#6fa3cc" stroke-opacity="0.6"><line x1="1153.4" y1="183.7" x2="1153.4" y2="223.4" stroke-width="2.2"/><line x1="1136.6" y1="183.7" x2="1170.2" y2="183.7" stroke-width="3.2"/><line x1="1136.6" y1="223.4" x2="1170.2" y2="223.4" stroke-width="3.2"/></g>
<g stroke="#6fa3cc" stroke-opacity="0.6"><line x1="1191.4" y1="273.0" x2="1191.4" y2="314.0" stroke-width="2.2"/><line x1="1174.6" y1="273.0" x2="1208.2" y2="273.0" stroke-width="3.2"/><line x1="1174.6" y1="314.0" x2="1208.2" y2="314.0" stroke-width="3.2"/></g>
<g stroke="#6fa3cc" stroke-opacity="0.6"><line x1="1229.3" y1="285.6" x2="1229.3" y2="330.7" stroke-width="2.2"/><line x1="1212.5" y1="285.6" x2="1246.1" y2="285.6" stroke-width="3.2"/><line x1="1212.5" y1="330.7" x2="1246.1" y2="330.7" stroke-width="3.2"/></g>
<g stroke="#6fa3cc" stroke-opacity="0.6"><line x1="1267.3" y1="317.2" x2="1267.3" y2="371.3" stroke-width="2.2"/><line x1="1250.5" y1="317.2" x2="1284.1" y2="317.2" stroke-width="3.2"/><line x1="1250.5" y1="371.3" x2="1284.1" y2="371.3" stroke-width="3.2"/></g>
<g stroke="#6fa3cc" stroke-opacity="0.6"><line x1="1305.3" y1="406.9" x2="1305.3" y2="435.3" stroke-width="2.2"/><line x1="1288.5" y1="406.9" x2="1322.1" y2="406.9" stroke-width="3.2"/><line x1="1288.5" y1="435.3" x2="1322.1" y2="435.3" stroke-width="3.2"/></g>
<g stroke="#6fa3cc" stroke-opacity="0.6"><line x1="1343.2" y1="227.9" x2="1343.2" y2="280.6" stroke-width="2.2"/><line x1="1326.4" y1="227.9" x2="1360.0" y2="227.9" stroke-width="3.2"/><line x1="1326.4" y1="280.6" x2="1360.0" y2="280.6" stroke-width="3.2"/></g>
<g stroke="#6fa3cc" stroke-opacity="0.6"><line x1="1381.2" y1="124.6" x2="1381.2" y2="199.9" stroke-width="2.2"/><line x1="1364.4" y1="124.6" x2="1398.0" y2="124.6" stroke-width="3.2"/><line x1="1364.4" y1="199.9" x2="1398.0" y2="199.9" stroke-width="3.2"/></g>
<g stroke="#6fa3cc" stroke-opacity="0.6"><line x1="1419.1" y1="155.7" x2="1419.1" y2="205.3" stroke-width="2.2"/><line x1="1402.3" y1="155.7" x2="1435.9" y2="155.7" stroke-width="3.2"/><line x1="1402.3" y1="205.3" x2="1435.9" y2="205.3" stroke-width="3.2"/></g>
<g stroke="#6fa3cc" stroke-opacity="0.6"><line x1="1457.1" y1="169.7" x2="1457.1" y2="217.1" stroke-width="2.2"/><line x1="1440.3" y1="169.7" x2="1473.9" y2="169.7" stroke-width="3.2"/><line x1="1440.3" y1="217.1" x2="1473.9" y2="217.1" stroke-width="3.2"/></g>
<g stroke="#6fa3cc" stroke-opacity="0.6"><line x1="1495.1" y1="158.9" x2="1495.1" y2="222.5" stroke-width="2.2"/><line x1="1478.3" y1="158.9" x2="1511.9" y2="158.9" stroke-width="3.2"/><line x1="1478.3" y1="222.5" x2="1511.9" y2="222.5" stroke-width="3.2"/></g>
<g stroke="#6fa3cc" stroke-opacity="0.6"><line x1="1533.0" y1="155.7" x2="1533.0" y2="231.0" stroke-width="2.2"/><line x1="1516.2" y1="155.7" x2="1549.8" y2="155.7" stroke-width="3.2"/><line x1="1516.2" y1="231.0" x2="1549.8" y2="231.0" stroke-width="3.2"/></g>
<g stroke="#6fa3cc" stroke-opacity="0.6"><line x1="1571.0" y1="232.4" x2="1571.0" y2="296.4" stroke-width="2.2"/><line x1="1554.2" y1="232.4" x2="1587.8" y2="232.4" stroke-width="3.2"/><line x1="1554.2" y1="296.4" x2="1587.8" y2="296.4" stroke-width="3.2"/></g>
<g stroke="#6fa3cc" stroke-opacity="0.6"><line x1="1608.9" y1="183.7" x2="1608.9" y2="248.6" stroke-width="2.2"/><line x1="1592.1" y1="183.7" x2="1625.7" y2="183.7" stroke-width="3.2"/><line x1="1592.1" y1="248.6" x2="1625.7" y2="248.6" stroke-width="3.2"/></g>
<g stroke="#6fa3cc" stroke-opacity="0.6"><line x1="1646.9" y1="175.1" x2="1646.9" y2="249.1" stroke-width="2.2"/><line x1="1630.1" y1="175.1" x2="1663.7" y2="175.1" stroke-width="3.2"/><line x1="1630.1" y1="249.1" x2="1663.7" y2="249.1" stroke-width="3.2"/></g>
<g stroke="#6fa3cc" stroke-opacity="0.6"><line x1="1684.9" y1="196.3" x2="1684.9" y2="250.0" stroke-width="2.2"/><line x1="1668.1" y1="196.3" x2="1701.7" y2="196.3" stroke-width="3.2"/><line x1="1668.1" y1="250.0" x2="1701.7" y2="250.0" stroke-width="3.2"/></g>
<g stroke="#6fa3cc" stroke-opacity="0.6"><line x1="1722.8" y1="185.5" x2="1722.8" y2="244.1" stroke-width="2.2"/><line x1="1706.0" y1="185.5" x2="1739.6" y2="185.5" stroke-width="3.2"/><line x1="1706.0" y1="244.1" x2="1739.6" y2="244.1" stroke-width="3.2"/></g>
<g stroke="#6fa3cc" stroke-opacity="0.6"><line x1="1760.8" y1="327.6" x2="1760.8" y2="358.2" stroke-width="2.2"/><line x1="1744.0" y1="327.6" x2="1777.6" y2="327.6" stroke-width="3.2"/><line x1="1744.0" y1="358.2" x2="1777.6" y2="358.2" stroke-width="3.2"/></g>
<g stroke="#b37abd" stroke-opacity="0.6"><line x1="887.7" y1="346.0" x2="887.7" y2="372.2" stroke-width="2.2"/><line x1="870.9" y1="346.0" x2="904.5" y2="346.0" stroke-width="3.2"/><line x1="870.9" y1="372.2" x2="904.5" y2="372.2" stroke-width="3.2"/></g>
<g stroke="#b37abd" stroke-opacity="0.6"><line x1="925.7" y1="296.0" x2="925.7" y2="323.5" stroke-width="2.2"/><line x1="908.9" y1="296.0" x2="942.5" y2="296.0" stroke-width="3.2"/><line x1="908.9" y1="323.5" x2="942.5" y2="323.5" stroke-width="3.2"/></g>
<g stroke="#b37abd" stroke-opacity="0.6"><line x1="963.6" y1="213.5" x2="963.6" y2="252.7" stroke-width="2.2"/><line x1="946.8" y1="213.5" x2="980.4" y2="213.5" stroke-width="3.2"/><line x1="946.8" y1="252.7" x2="980.4" y2="252.7" stroke-width="3.2"/></g>
<g stroke="#b37abd" stroke-opacity="0.6"><line x1="1001.6" y1="242.3" x2="1001.6" y2="270.7" stroke-width="2.2"/><line x1="984.8" y1="242.3" x2="1018.4" y2="242.3" stroke-width="3.2"/><line x1="984.8" y1="270.7" x2="1018.4" y2="270.7" stroke-width="3.2"/></g>
<g stroke="#b37abd" stroke-opacity="0.6"><line x1="1039.5" y1="206.7" x2="1039.5" y2="234.2" stroke-width="2.2"/><line x1="1022.7" y1="206.7" x2="1056.3" y2="206.7" stroke-width="3.2"/><line x1="1022.7" y1="234.2" x2="1056.3" y2="234.2" stroke-width="3.2"/></g>
<g stroke="#b37abd" stroke-opacity="0.6"><line x1="1077.5" y1="222.5" x2="1077.5" y2="261.7" stroke-width="2.2"/><line x1="1060.7" y1="222.5" x2="1094.3" y2="222.5" stroke-width="3.2"/><line x1="1060.7" y1="261.7" x2="1094.3" y2="261.7" stroke-width="3.2"/></g>
<g stroke="#b37abd" stroke-opacity="0.6"><line x1="1115.5" y1="244.1" x2="1115.5" y2="279.7" stroke-width="2.2"/><line x1="1098.7" y1="244.1" x2="1132.3" y2="244.1" stroke-width="3.2"/><line x1="1098.7" y1="279.7" x2="1132.3" y2="279.7" stroke-width="3.2"/></g>
<g stroke="#b37abd" stroke-opacity="0.6"><line x1="1153.4" y1="212.1" x2="1153.4" y2="254.5" stroke-width="2.2"/><line x1="1136.6" y1="212.1" x2="1170.2" y2="212.1" stroke-width="3.2"/><line x1="1136.6" y1="254.5" x2="1170.2" y2="254.5" stroke-width="3.2"/></g>
<g stroke="#b37abd" stroke-opacity="0.6"><line x1="1191.4" y1="265.3" x2="1191.4" y2="297.8" stroke-width="2.2"/><line x1="1174.6" y1="265.3" x2="1208.2" y2="265.3" stroke-width="3.2"/><line x1="1174.6" y1="297.8" x2="1208.2" y2="297.8" stroke-width="3.2"/></g>
<g stroke="#b37abd" stroke-opacity="0.6"><line x1="1229.3" y1="239.6" x2="1229.3" y2="278.8" stroke-width="2.2"/><line x1="1212.5" y1="239.6" x2="1246.1" y2="239.6" stroke-width="3.2"/><line x1="1212.5" y1="278.8" x2="1246.1" y2="278.8" stroke-width="3.2"/></g>
<g stroke="#b37abd" stroke-opacity="0.6"><line x1="1267.3" y1="317.2" x2="1267.3" y2="355.1" stroke-width="2.2"/><line x1="1250.5" y1="317.2" x2="1284.1" y2="317.2" stroke-width="3.2"/><line x1="1250.5" y1="355.1" x2="1284.1" y2="355.1" stroke-width="3.2"/></g>
<g stroke="#b37abd" stroke-opacity="0.6"><line x1="1305.3" y1="351.5" x2="1305.3" y2="406.9" stroke-width="2.2"/><line x1="1288.5" y1="351.5" x2="1322.1" y2="351.5" stroke-width="3.2"/><line x1="1288.5" y1="406.9" x2="1322.1" y2="406.9" stroke-width="3.2"/></g>
<g stroke="#b37abd" stroke-opacity="0.6"><line x1="1343.2" y1="308.2" x2="1343.2" y2="364.1" stroke-width="2.2"/><line x1="1326.4" y1="308.2" x2="1360.0" y2="308.2" stroke-width="3.2"/><line x1="1326.4" y1="364.1" x2="1360.0" y2="364.1" stroke-width="3.2"/></g>
<g stroke="#b37abd" stroke-opacity="0.6"><line x1="1381.2" y1="161.6" x2="1381.2" y2="212.5" stroke-width="2.2"/><line x1="1364.4" y1="161.6" x2="1398.0" y2="161.6" stroke-width="3.2"/><line x1="1364.4" y1="212.5" x2="1398.0" y2="212.5" stroke-width="3.2"/></g>
<g stroke="#b37abd" stroke-opacity="0.6"><line x1="1419.1" y1="147.2" x2="1419.1" y2="206.2" stroke-width="2.2"/><line x1="1402.3" y1="147.2" x2="1435.9" y2="147.2" stroke-width="3.2"/><line x1="1402.3" y1="206.2" x2="1435.9" y2="206.2" stroke-width="3.2"/></g>
<g stroke="#b37abd" stroke-opacity="0.6"><line x1="1457.1" y1="189.5" x2="1457.1" y2="228.8" stroke-width="2.2"/><line x1="1440.3" y1="189.5" x2="1473.9" y2="189.5" stroke-width="3.2"/><line x1="1440.3" y1="228.8" x2="1473.9" y2="228.8" stroke-width="3.2"/></g>
<g stroke="#b37abd" stroke-opacity="0.6"><line x1="1495.1" y1="222.5" x2="1495.1" y2="271.6" stroke-width="2.2"/><line x1="1478.3" y1="222.5" x2="1511.9" y2="222.5" stroke-width="3.2"/><line x1="1478.3" y1="271.6" x2="1511.9" y2="271.6" stroke-width="3.2"/></g>
<g stroke="#b37abd" stroke-opacity="0.6"><line x1="1533.0" y1="247.3" x2="1533.0" y2="295.1" stroke-width="2.2"/><line x1="1516.2" y1="247.3" x2="1549.8" y2="247.3" stroke-width="3.2"/><line x1="1516.2" y1="295.1" x2="1549.8" y2="295.1" stroke-width="3.2"/></g>
<g stroke="#b37abd" stroke-opacity="0.6"><line x1="1571.0" y1="245.5" x2="1571.0" y2="304.6" stroke-width="2.2"/><line x1="1554.2" y1="245.5" x2="1587.8" y2="245.5" stroke-width="3.2"/><line x1="1554.2" y1="304.6" x2="1587.8" y2="304.6" stroke-width="3.2"/></g>
<g stroke="#b37abd" stroke-opacity="0.6"><line x1="1608.9" y1="272.1" x2="1608.9" y2="323.9" stroke-width="2.2"/><line x1="1592.1" y1="272.1" x2="1625.7" y2="272.1" stroke-width="3.2"/><line x1="1592.1" y1="323.9" x2="1625.7" y2="323.9" stroke-width="3.2"/></g>
<g stroke="#b37abd" stroke-opacity="0.6"><line x1="1646.9" y1="214.4" x2="1646.9" y2="270.3" stroke-width="2.2"/><line x1="1630.1" y1="214.4" x2="1663.7" y2="214.4" stroke-width="3.2"/><line x1="1630.1" y1="270.3" x2="1663.7" y2="270.3" stroke-width="3.2"/></g>
<g stroke="#b37abd" stroke-opacity="0.6"><line x1="1684.9" y1="222.5" x2="1684.9" y2="277.5" stroke-width="2.2"/><line x1="1668.1" y1="222.5" x2="1701.7" y2="222.5" stroke-width="3.2"/><line x1="1668.1" y1="277.5" x2="1701.7" y2="277.5" stroke-width="3.2"/></g>
<g stroke="#b37abd" stroke-opacity="0.6"><line x1="1722.8" y1="231.9" x2="1722.8" y2="291.0" stroke-width="2.2"/><line x1="1706.0" y1="231.9" x2="1739.6" y2="231.9" stroke-width="3.2"/><line x1="1706.0" y1="291.0" x2="1739.6" y2="291.0" stroke-width="3.2"/></g>
<g stroke="#b37abd" stroke-opacity="0.6"><line x1="1760.8" y1="253.1" x2="1760.8" y2="314.5" stroke-width="2.2"/><line x1="1744.0" y1="253.1" x2="1777.6" y2="253.1" stroke-width="3.2"/><line x1="1744.0" y1="314.5" x2="1777.6" y2="314.5" stroke-width="3.2"/></g>
<text x="934.90" y="91.50" font-size="27.50" fill="#5a5a5a" style="font-style:italic" >acetic acid</text>
<circle cx="883.7" cy="117.5" r="7.4" fill="#999999"/>
<g stroke="#a8a8a8" stroke-opacity="0.5"><line x1="883.7" y1="104.1" x2="883.7" y2="130.4" stroke-width="2"/><line x1="869.8000000000001" y1="104.1" x2="897.6" y2="104.1" stroke-width="3"/><line x1="869.8000000000001" y1="130.4" x2="897.6" y2="130.4" stroke-width="3"/></g>
<text x="907.38" y="125.80" font-size="24.50" fill="#5a5a5a" style="font-style:italic" >0%</text>
<circle cx="989.8" cy="117.5" r="7.4" fill="#0f6db5"/>
<g stroke="#6fa3cc" stroke-opacity="0.6"><line x1="989.8" y1="104.1" x2="989.8" y2="130.4" stroke-width="2"/><line x1="975.9" y1="104.1" x2="1003.6999999999999" y2="104.1" stroke-width="3"/><line x1="975.9" y1="130.4" x2="1003.6999999999999" y2="130.4" stroke-width="3"/></g>
<text x="1014.31" y="125.80" font-size="24.50" fill="#5a5a5a" style="font-style:italic" >5%</text>
<circle cx="1095.8" cy="117.5" r="7.4" fill="#a86db0"/>
<g stroke="#b37abd" stroke-opacity="0.6"><line x1="1095.8" y1="104.1" x2="1095.8" y2="130.4" stroke-width="2"/><line x1="1081.8999999999999" y1="104.1" x2="1109.7" y2="104.1" stroke-width="3"/><line x1="1081.8999999999999" y1="130.4" x2="1109.7" y2="130.4" stroke-width="3"/></g>
<text x="1121.08" y="125.80" font-size="24.50" fill="#5a5a5a" style="font-style:italic" >10%</text>
<rect x="872.9" y="484.8" width="905.4" height="30.1" fill="#fff" stroke="#111" stroke-width="2.2"/>
<rect x="1325.6" y="484.8" width="452.7" height="30.1" fill="#141110" stroke="#050505" stroke-width="2.2"/>
<line x1="986.1" y1="484.8" x2="986.1" y2="494.0" stroke="#111" stroke-width="2" />
<line x1="986.1" y1="505.5" x2="986.1" y2="514.9" stroke="#111" stroke-width="2" />
<line x1="1099.2" y1="484.8" x2="1099.2" y2="494.0" stroke="#111" stroke-width="2" />
<line x1="1099.2" y1="505.5" x2="1099.2" y2="514.9" stroke="#111" stroke-width="2" />
<line x1="1212.4" y1="484.8" x2="1212.4" y2="494.0" stroke="#111" stroke-width="2" />
<line x1="1212.4" y1="505.5" x2="1212.4" y2="514.9" stroke="#111" stroke-width="2" />
<text x="-2.42" y="701.64" font-size="64.00" fill="#000" style="" >c</text>
<line x1="231.8" y1="790.0" x2="231.8" y2="1245.8" stroke="#000" stroke-width="2.2" />
<line x1="214.3" y1="1224.3" x2="232.0" y2="1224.3" stroke="#000" stroke-width="2.2" />
<text x="174.19" y="1239.94" font-size="43.00" fill="#000" style="" >0</text>
<line x1="214.3" y1="1120.6" x2="232.0" y2="1120.6" stroke="#000" stroke-width="2.2" />
<text x="147.64" y="1136.24" font-size="43.00" fill="#000" style="" >25</text>
<line x1="214.3" y1="1016.9" x2="232.0" y2="1016.9" stroke="#000" stroke-width="2.2" />
<text x="146.78" y="1032.54" font-size="43.00" fill="#000" style="" >50</text>
<line x1="214.3" y1="913.2" x2="232.0" y2="913.2" stroke="#000" stroke-width="2.2" />
<text x="147.64" y="928.57" font-size="43.00" fill="#000" style="" >75</text>
<line x1="214.3" y1="809.5" x2="232.0" y2="809.5" stroke="#000" stroke-width="2.2" />
<text x="119.47" y="825.14" font-size="43.00" fill="#000" style="" >100</text>
<text transform="translate(26.60,1182.79) rotate(-90)" x="0" y="0" font-size="45.90" fill="#000">mean response</text>
<text transform="translate(83.88,1126.87) rotate(-90)" x="0" y="0" font-size="45.90" fill="#000">per fly (%)</text>
<path d="M291.5,1056.9 L404.5,976.9 L517.6,897.8" fill="none" stroke="#1270b5" stroke-width="2.6"/>
<circle cx="291.5" cy="1056.9" r="8.8" fill="#1270b5"/>
<circle cx="404.5" cy="976.9" r="8.8" fill="#1270b5"/>
<circle cx="517.6" cy="897.8" r="8.8" fill="#1270b5"/>
<path d="M310.0,1176.8 L423.0,1121.5 L536.2,1074.3" fill="none" stroke="#5c3470" stroke-width="2.6"/>
<circle cx="310.0" cy="1176.8" r="8.8" fill="#5c3470"/>
<circle cx="423.0" cy="1121.5" r="8.8" fill="#5c3470"/>
<circle cx="536.2" cy="1074.3" r="8.8" fill="#5c3470"/>
<path d="M300.2,1099.5 L414.7,1023.0 L527.2,1022.7" fill="none" stroke="#b48db8" stroke-width="3.1" stroke-dasharray="5.5,3.8"/>
<circle cx="300.2" cy="1099.5" r="6.4" fill="none" stroke="#b48db8" stroke-width="3.8" stroke-dasharray="6.5,3.5"/>
<circle cx="414.7" cy="1023.0" r="6.4" fill="none" stroke="#b48db8" stroke-width="3.8" stroke-dasharray="6.5,3.5"/>
<circle cx="527.2" cy="1022.7" r="6.4" fill="none" stroke="#b48db8" stroke-width="3.8" stroke-dasharray="6.5,3.5"/>
<path d="M328.6,1115.0 L441.9,1022.8 L555.9,900.6" fill="none" stroke="#1a70b0" stroke-width="3.1" stroke-dasharray="5.5,3.8"/>
<circle cx="328.6" cy="1115.0" r="6.4" fill="none" stroke="#1a70b0" stroke-width="3.8" stroke-dasharray="6.5,3.5"/>
<circle cx="441.9" cy="1022.8" r="6.4" fill="none" stroke="#1a70b0" stroke-width="3.8" stroke-dasharray="6.5,3.5"/>
<circle cx="555.9" cy="900.6" r="6.4" fill="none" stroke="#1a70b0" stroke-width="3.8" stroke-dasharray="6.5,3.5"/>
<path d="M319.5,1142.2 L432.6,1075.3 L546.7,1031.3" fill="none" stroke="#2a2a2a" stroke-width="3.1" stroke-dasharray="5.5,3.8"/>
<circle cx="319.5" cy="1142.2" r="6.4" fill="none" stroke="#2a2a2a" stroke-width="3.8" stroke-dasharray="6.5,3.5"/>
<circle cx="432.6" cy="1075.3" r="6.4" fill="none" stroke="#2a2a2a" stroke-width="3.8" stroke-dasharray="6.5,3.5"/>
<circle cx="546.7" cy="1031.3" r="6.4" fill="none" stroke="#2a2a2a" stroke-width="3.8" stroke-dasharray="6.5,3.5"/>
<text x="603.26" y="820.84" font-size="34.00" fill="#000" style="" >acetic acid</text>
<rect x="645.7" y="846.1" width="104.6" height="45.3" fill="#ececec" />
<text x="669.25" y="881.33" font-size="36.00" fill="#000" style="" >0%</text>
<line x1="655.7" y1="891.4" x2="736.6" y2="891.4" stroke="#333a40" stroke-width="6.8"  stroke-dasharray="14.7,7"/>
<rect x="645.7" y="910.5" width="104.6" height="45.2" fill="#f3f7fb" />
<text x="668.43" y="945.73" font-size="36.00" fill="#000" style="" >1%</text>
<line x1="655.7" y1="953.7" x2="740.2" y2="953.7" stroke="#1f72b8" stroke-width="6.8"  stroke-dasharray="11.7,7"/>
<rect x="645.7" y="970.8" width="104.6" height="44.2" fill="#d9e6f1" />
<text x="669.02" y="1006.03" font-size="36.00" fill="#000" style="" >5%</text>
<line x1="655.7" y1="1015.4" x2="740.2" y2="1015.4" stroke="#1270b5" stroke-width="6.8" />
<rect x="645.7" y="1033.2" width="104.6" height="44.2" fill="#eee8f3" />
<text x="657.00" y="1068.43" font-size="36.00" fill="#000" style="" >10%</text>
<line x1="655.7" y1="1077.2" x2="736.6" y2="1077.2" stroke="#b98bb5" stroke-width="6.8"  stroke-dasharray="14.7,7"/>
<rect x="645.7" y="1095.1" width="104.6" height="43.7" fill="#ede6ee" />
<text x="657.63" y="1130.33" font-size="36.00" fill="#000" style="" >30%</text>
<line x1="655.7" y1="1139.2" x2="740.2" y2="1139.2" stroke="#5c3470" stroke-width="6.8" />
<rect x="1.7" y="1286.0" width="231.0" height="99.4" fill="#e6e6e6" />
<text x="10.20" y="1319.80" font-size="34.50" fill="#000" style="" >sleep during</text>
<text x="94.15" y="1374.30" font-size="34.50" fill="#000" style="" >ZT</text>
<rect x="257.0" y="1301.8" width="106.0" height="81.8" fill="#b4cfa4" />
<text x="280.48" y="1356.50" font-size="36.50" fill="#000" style="" >4-6</text>
<rect x="370.2" y="1301.8" width="105.6" height="81.8" fill="#a3a4bc" />
<text x="369.53" y="1356.50" font-size="36.50" fill="#000" style="" >13-15</text>
<rect x="483.4" y="1301.8" width="105.9" height="81.8" fill="#a8c7e7" />
<text x="482.51" y="1356.50" font-size="36.50" fill="#000" style="" >18-20</text>
<text x="834.48" y="712.44" font-size="64.00" fill="#000" style="" >d</text>
<line x1="950.0" y1="710.4" x2="950.0" y2="1519.3" stroke="#8c8c8c" stroke-width="3.4" />
<line x1="984.1" y1="710.4" x2="984.1" y2="1519.3" stroke="#8c8c8c" stroke-width="3.4" />
<line x1="1030.0" y1="710.4" x2="1030.0" y2="1519.3" stroke="#8c8c8c" stroke-width="3.4" />
<line x1="937.5" y1="974.1" x2="1682.6" y2="974.1" stroke="#c8c8c8" stroke-width="2" />
<text x="914.35" y="983.19" font-size="25.00" fill="#000" style="" >0</text>
<line x1="937.5" y1="921.6" x2="1682.6" y2="921.6" stroke="#c8c8c8" stroke-width="2" />
<text x="914.85" y="930.54" font-size="25.00" fill="#000" style="" >5</text>
<line x1="937.5" y1="869.1" x2="1682.6" y2="869.1" stroke="#c8c8c8" stroke-width="2" />
<text x="898.41" y="878.19" font-size="25.00" fill="#000" style="" >10</text>
<line x1="937.5" y1="816.6" x2="1682.6" y2="816.6" stroke="#c8c8c8" stroke-width="2" />
<text x="898.91" y="825.54" font-size="25.00" fill="#000" style="" >15</text>
<line x1="937.5" y1="764.1" x2="1682.6" y2="764.1" stroke="#c8c8c8" stroke-width="2" />
<text x="898.41" y="773.19" font-size="25.00" fill="#000" style="" >20</text>
<line x1="937.5" y1="1235.2" x2="1682.6" y2="1235.2" stroke="#c8c8c8" stroke-width="2" />
<text x="914.35" y="1244.29" font-size="25.00" fill="#000" style="" >0</text>
<line x1="937.5" y1="1182.8" x2="1682.6" y2="1182.8" stroke="#c8c8c8" stroke-width="2" />
<text x="914.85" y="1191.69" font-size="25.00" fill="#000" style="" >5</text>
<line x1="937.5" y1="1130.3" x2="1682.6" y2="1130.3" stroke="#c8c8c8" stroke-width="2" />
<text x="898.41" y="1139.39" font-size="25.00" fill="#000" style="" >10</text>
<line x1="937.5" y1="1077.9" x2="1682.6" y2="1077.9" stroke="#c8c8c8" stroke-width="2" />
<text x="898.91" y="1086.79" font-size="25.00" fill="#000" style="" >15</text>
<line x1="937.5" y1="1025.4" x2="1682.6" y2="1025.4" stroke="#c8c8c8" stroke-width="2" />
<text x="898.41" y="1034.49" font-size="25.00" fill="#000" style="" >20</text>
<line x1="937.5" y1="1498.8" x2="1682.6" y2="1498.8" stroke="#c8c8c8" stroke-width="2" />
<text x="914.35" y="1507.89" font-size="25.00" fill="#000" style="" >0</text>
<line x1="937.5" y1="1446.3" x2="1682.6" y2="1446.3" stroke="#c8c8c8" stroke-width="2" />
<text x="914.85" y="1455.24" font-size="25.00" fill="#000" style="" >5</text>
<line x1="937.5" y1="1393.8" x2="1682.6" y2="1393.8" stroke="#c8c8c8" stroke-width="2" />
<text x="898.41" y="1402.89" font-size="25.00" fill="#000" style="" >10</text>
<line x1="937.5" y1="1341.3" x2="1682.6" y2="1341.3" stroke="#c8c8c8" stroke-width="2" />
<text x="898.91" y="1350.24" font-size="25.00" fill="#000" style="" >15</text>
<line x1="937.5" y1="1288.8" x2="1682.6" y2="1288.8" stroke="#c8c8c8" stroke-width="2" />
<text x="898.41" y="1297.89" font-size="25.00" fill="#000" style="" >20</text>
<rect x="944.50" y="753.6" width="11.43" height="220.5" fill="#1d1d1d" stroke="#4a4a4a" stroke-width="0.7"/>
<rect x="955.93" y="774.6" width="11.43" height="199.5" fill="#1d1d1d" stroke="#4a4a4a" stroke-width="0.7"/>
<rect x="967.36" y="795.6" width="11.43" height="178.5" fill="#1d1d1d" stroke="#4a4a4a" stroke-width="0.7"/>
<rect x="978.79" y="753.6" width="11.43" height="220.5" fill="#1d1d1d" stroke="#4a4a4a" stroke-width="0.7"/>
<rect x="990.22" y="858.6" width="11.43" height="115.5" fill="#1d1d1d" stroke="#4a4a4a" stroke-width="0.7"/>
<rect x="1001.65" y="953.1" width="11.43" height="21.0" fill="#1d1d1d" stroke="#4a4a4a" stroke-width="0.7"/>
<rect x="1013.08" y="858.6" width="11.43" height="115.5" fill="#1d1d1d" stroke="#4a4a4a" stroke-width="0.7"/>
<rect x="1024.51" y="879.6" width="11.43" height="94.5" fill="#1d1d1d" stroke="#4a4a4a" stroke-width="0.7"/>
<rect x="1035.94" y="869.1" width="11.43" height="105.0" fill="#1d1d1d" stroke="#4a4a4a" stroke-width="0.7"/>
<rect x="1047.37" y="932.1" width="11.43" height="42.0" fill="#1d1d1d" stroke="#4a4a4a" stroke-width="0.7"/>
<rect x="1058.80" y="921.6" width="11.43" height="52.5" fill="#1d1d1d" stroke="#4a4a4a" stroke-width="0.7"/>
<rect x="1070.23" y="963.6" width="11.43" height="10.5" fill="#1d1d1d" stroke="#4a4a4a" stroke-width="0.7"/>
<rect x="1081.66" y="963.6" width="11.43" height="10.5" fill="#1d1d1d" stroke="#4a4a4a" stroke-width="0.7"/>
<rect x="1093.09" y="963.6" width="11.43" height="10.5" fill="#1d1d1d" stroke="#4a4a4a" stroke-width="0.7"/>
<rect x="1104.52" y="953.1" width="11.43" height="21.0" fill="#1d1d1d" stroke="#4a4a4a" stroke-width="0.7"/>
<rect x="1115.95" y="963.6" width="11.43" height="10.5" fill="#1d1d1d" stroke="#4a4a4a" stroke-width="0.7"/>
<rect x="1127.38" y="953.1" width="11.43" height="21.0" fill="#1d1d1d" stroke="#4a4a4a" stroke-width="0.7"/>
<rect x="1138.81" y="963.6" width="11.43" height="10.5" fill="#1d1d1d" stroke="#4a4a4a" stroke-width="0.7"/>
<rect x="1150.24" y="963.6" width="11.43" height="10.5" fill="#1d1d1d" stroke="#4a4a4a" stroke-width="0.7"/>
<rect x="1161.67" y="942.6" width="11.43" height="31.5" fill="#1d1d1d" stroke="#4a4a4a" stroke-width="0.7"/>
<rect x="1184.53" y="963.6" width="11.43" height="10.5" fill="#1d1d1d" stroke="#4a4a4a" stroke-width="0.7"/>
<rect x="1241.68" y="953.1" width="11.43" height="21.0" fill="#1d1d1d" stroke="#4a4a4a" stroke-width="0.7"/>
<rect x="1664.59" y="963.6" width="11.43" height="10.5" fill="#1d1d1d" stroke="#4a4a4a" stroke-width="0.7"/>
<rect x="1707.1" y="763.7" width="52.8" height="211.7" fill="#dcdedb" />
<rect x="1766.4" y="763.7" width="12.1" height="211.7" fill="#a9c99a" />
<rect x="944.50" y="1140.8" width="11.43" height="94.4" fill="#1d1d1d" stroke="#4a4a4a" stroke-width="0.7"/>
<rect x="955.93" y="1172.3" width="11.43" height="62.9" fill="#1d1d1d" stroke="#4a4a4a" stroke-width="0.7"/>
<rect x="967.36" y="1151.3" width="11.43" height="83.9" fill="#1d1d1d" stroke="#4a4a4a" stroke-width="0.7"/>
<rect x="978.79" y="1172.3" width="11.43" height="62.9" fill="#1d1d1d" stroke="#4a4a4a" stroke-width="0.7"/>
<rect x="990.22" y="1172.3" width="11.43" height="62.9" fill="#1d1d1d" stroke="#4a4a4a" stroke-width="0.7"/>
<rect x="1001.65" y="1130.3" width="11.43" height="104.9" fill="#1d1d1d" stroke="#4a4a4a" stroke-width="0.7"/>
<rect x="1013.08" y="1203.7" width="11.43" height="31.5" fill="#1d1d1d" stroke="#4a4a4a" stroke-width="0.7"/>
<rect x="1024.51" y="1193.2" width="11.43" height="42.0" fill="#1d1d1d" stroke="#4a4a4a" stroke-width="0.7"/>
<rect x="1035.94" y="1182.8" width="11.43" height="52.5" fill="#1d1d1d" stroke="#4a4a4a" stroke-width="0.7"/>
<rect x="1047.37" y="1214.2" width="11.43" height="21.0" fill="#1d1d1d" stroke="#4a4a4a" stroke-width="0.7"/>
<rect x="1058.80" y="1161.8" width="11.43" height="73.4" fill="#1d1d1d" stroke="#4a4a4a" stroke-width="0.7"/>
<rect x="1070.23" y="1214.2" width="11.43" height="21.0" fill="#1d1d1d" stroke="#4a4a4a" stroke-width="0.7"/>
<rect x="1081.66" y="1224.7" width="11.43" height="10.5" fill="#1d1d1d" stroke="#4a4a4a" stroke-width="0.7"/>
<rect x="1093.09" y="1172.3" width="11.43" height="62.9" fill="#1d1d1d" stroke="#4a4a4a" stroke-width="0.7"/>
<rect x="1104.52" y="1203.7" width="11.43" height="31.5" fill="#1d1d1d" stroke="#4a4a4a" stroke-width="0.7"/>
<rect x="1115.95" y="1203.7" width="11.43" height="31.5" fill="#1d1d1d" stroke="#4a4a4a" stroke-width="0.7"/>
<rect x="1127.38" y="1193.2" width="11.43" height="42.0" fill="#1d1d1d" stroke="#4a4a4a" stroke-width="0.7"/>
<rect x="1138.81" y="1214.2" width="11.43" height="21.0" fill="#1d1d1d" stroke="#4a4a4a" stroke-width="0.7"/>
<rect x="1150.24" y="1203.7" width="11.43" height="31.5" fill="#1d1d1d" stroke="#4a4a4a" stroke-width="0.7"/>
<rect x="1173.10" y="1224.7" width="11.43" height="10.5" fill="#1d1d1d" stroke="#4a4a4a" stroke-width="0.7"/>
<rect x="1195.96" y="1224.7" width="11.43" height="10.5" fill="#1d1d1d" stroke="#4a4a4a" stroke-width="0.7"/>
<rect x="1207.39" y="1224.7" width="11.43" height="10.5" fill="#1d1d1d" stroke="#4a4a4a" stroke-width="0.7"/>
<rect x="1230.25" y="1214.2" width="11.43" height="21.0" fill="#1d1d1d" stroke="#4a4a4a" stroke-width="0.7"/>
<rect x="1241.68" y="1214.2" width="11.43" height="21.0" fill="#1d1d1d" stroke="#4a4a4a" stroke-width="0.7"/>
<rect x="1275.97" y="1224.7" width="11.43" height="10.5" fill="#1d1d1d" stroke="#4a4a4a" stroke-width="0.7"/>
<rect x="1287.40" y="1224.7" width="11.43" height="10.5" fill="#1d1d1d" stroke="#4a4a4a" stroke-width="0.7"/>
<rect x="1298.83" y="1224.7" width="11.43" height="10.5" fill="#1d1d1d" stroke="#4a4a4a" stroke-width="0.7"/>
<rect x="1310.26" y="1224.7" width="11.43" height="10.5" fill="#1d1d1d" stroke="#4a4a4a" stroke-width="0.7"/>
<rect x="1344.55" y="1224.7" width="11.43" height="10.5" fill="#1d1d1d" stroke="#4a4a4a" stroke-width="0.7"/>
<rect x="1355.98" y="1214.2" width="11.43" height="21.0" fill="#1d1d1d" stroke="#4a4a4a" stroke-width="0.7"/>
<rect x="1367.41" y="1224.7" width="11.43" height="10.5" fill="#1d1d1d" stroke="#4a4a4a" stroke-width="0.7"/>
<rect x="1504.57" y="1224.7" width="11.43" height="10.5" fill="#1d1d1d" stroke="#4a4a4a" stroke-width="0.7"/>
<rect x="1516.00" y="1224.7" width="11.43" height="10.5" fill="#1d1d1d" stroke="#4a4a4a" stroke-width="0.7"/>
<rect x="1561.72" y="1224.7" width="11.43" height="10.5" fill="#1d1d1d" stroke="#4a4a4a" stroke-width="0.7"/>
<rect x="1707.1" y="1024.5" width="52.8" height="211.7" fill="#dcdedb" />
<rect x="1766.4" y="1024.5" width="12.1" height="211.7" fill="#737896" />
<rect x="944.50" y="1330.8" width="11.43" height="168.0" fill="#1d1d1d" stroke="#4a4a4a" stroke-width="0.7"/>
<rect x="955.93" y="1330.8" width="11.43" height="168.0" fill="#1d1d1d" stroke="#4a4a4a" stroke-width="0.7"/>
<rect x="967.36" y="1425.3" width="11.43" height="73.5" fill="#1d1d1d" stroke="#4a4a4a" stroke-width="0.7"/>
<rect x="978.79" y="1404.3" width="11.43" height="94.5" fill="#1d1d1d" stroke="#4a4a4a" stroke-width="0.7"/>
<rect x="990.22" y="1404.3" width="11.43" height="94.5" fill="#1d1d1d" stroke="#4a4a4a" stroke-width="0.7"/>
<rect x="1001.65" y="1393.8" width="11.43" height="105.0" fill="#1d1d1d" stroke="#4a4a4a" stroke-width="0.7"/>
<rect x="1013.08" y="1477.8" width="11.43" height="21.0" fill="#1d1d1d" stroke="#4a4a4a" stroke-width="0.7"/>
<rect x="1024.51" y="1477.8" width="11.43" height="21.0" fill="#1d1d1d" stroke="#4a4a4a" stroke-width="0.7"/>
<rect x="1035.94" y="1414.8" width="11.43" height="84.0" fill="#1d1d1d" stroke="#4a4a4a" stroke-width="0.7"/>
<rect x="1047.37" y="1467.3" width="11.43" height="31.5" fill="#1d1d1d" stroke="#4a4a4a" stroke-width="0.7"/>
<rect x="1058.80" y="1446.3" width="11.43" height="52.5" fill="#1d1d1d" stroke="#4a4a4a" stroke-width="0.7"/>
<rect x="1070.23" y="1477.8" width="11.43" height="21.0" fill="#1d1d1d" stroke="#4a4a4a" stroke-width="0.7"/>
<rect x="1081.66" y="1467.3" width="11.43" height="31.5" fill="#1d1d1d" stroke="#4a4a4a" stroke-width="0.7"/>
<rect x="1104.52" y="1467.3" width="11.43" height="31.5" fill="#1d1d1d" stroke="#4a4a4a" stroke-width="0.7"/>
<rect x="1115.95" y="1488.3" width="11.43" height="10.5" fill="#1d1d1d" stroke="#4a4a4a" stroke-width="0.7"/>
<rect x="1150.24" y="1488.3" width="11.43" height="10.5" fill="#1d1d1d" stroke="#4a4a4a" stroke-width="0.7"/>
<rect x="1161.67" y="1488.3" width="11.43" height="10.5" fill="#1d1d1d" stroke="#4a4a4a" stroke-width="0.7"/>
<rect x="1230.25" y="1488.3" width="11.43" height="10.5" fill="#1d1d1d" stroke="#4a4a4a" stroke-width="0.7"/>
<rect x="1707.1" y="1288.3" width="52.8" height="211.4" fill="#dcdedb" />
<rect x="1766.4" y="1288.3" width="12.1" height="211.4" fill="#a3c3e6" />
<line x1="949.8" y1="1504.5" x2="949.8" y2="1512.6" stroke="#222" stroke-width="1.6" />
<text x="941.96" y="1540.75" font-size="25.00" fill="#000" style="" >5</text>
<line x1="1007.1" y1="1504.5" x2="1007.1" y2="1512.6" stroke="#222" stroke-width="1.6" />
<text x="990.63" y="1541.06" font-size="25.00" fill="#000" style="" >10</text>
<line x1="1064.2" y1="1504.5" x2="1064.2" y2="1512.6" stroke="#222" stroke-width="1.6" />
<text x="1047.98" y="1540.75" font-size="25.00" fill="#000" style="" >15</text>
<line x1="1121.5" y1="1504.5" x2="1121.5" y2="1512.6" stroke="#222" stroke-width="1.6" />
<text x="1105.50" y="1541.06" font-size="25.00" fill="#000" style="" >20</text>
<line x1="1179.4" y1="1504.5" x2="1179.4" y2="1512.6" stroke="#222" stroke-width="1.6" />
<text x="1163.65" y="1541.06" font-size="25.00" fill="#000" style="" >25</text>
<line x1="1247.3" y1="1504.5" x2="1247.3" y2="1512.6" stroke="#222" stroke-width="1.6" />
<text x="1231.27" y="1541.06" font-size="25.00" fill="#000" style="" >30</text>
<line x1="1304.2" y1="1504.5" x2="1304.2" y2="1512.6" stroke="#222" stroke-width="1.6" />
<text x="1288.42" y="1541.06" font-size="25.00" fill="#000" style="" >35</text>
<line x1="1361.6" y1="1504.5" x2="1361.6" y2="1512.6" stroke="#222" stroke-width="1.6" />
<text x="1345.91" y="1541.06" font-size="25.00" fill="#000" style="" >40</text>
<line x1="1418.7" y1="1504.5" x2="1418.7" y2="1512.6" stroke="#222" stroke-width="1.6" />
<text x="1403.26" y="1540.75" font-size="25.00" fill="#000" style="" >45</text>
<line x1="1476.0" y1="1504.5" x2="1476.0" y2="1512.6" stroke="#222" stroke-width="1.6" />
<text x="1459.94" y="1541.06" font-size="25.00" fill="#000" style="" >50</text>
<line x1="1533.0" y1="1504.5" x2="1533.0" y2="1512.6" stroke="#222" stroke-width="1.6" />
<text x="1517.19" y="1540.75" font-size="25.00" fill="#000" style="" >55</text>
<line x1="1590.1" y1="1504.5" x2="1590.1" y2="1512.6" stroke="#222" stroke-width="1.6" />
<text x="1574.13" y="1541.06" font-size="25.00" fill="#000" style="" >60</text>
<line x1="1647.4" y1="1504.5" x2="1647.4" y2="1512.6" stroke="#222" stroke-width="1.6" />
<text x="1631.68" y="1541.06" font-size="25.00" fill="#000" style="" >65</text>
<text x="1166.42" y="1583.40" font-size="29.50" fill="#000" style="" >Length of sleep bouts (min)</text>
<text transform="translate(861.30,1280.21) rotate(-90)" x="0" y="0" font-size="29.60" fill="#000">Number of sleep bouts</text>
<text transform="translate(1743.87,920.50) rotate(-90)" x="0" y="0" font-size="28.50" fill="#000">ZT04-06</text>
<text transform="translate(1743.87,1181.08) rotate(-90)" x="0" y="0" font-size="28.50" fill="#000">ZT13-15</text>
<text transform="translate(1743.87,1445.27) rotate(-90)" x="0" y="0" font-size="28.50" fill="#000">ZT18-20</text>
</svg>
</body></html>
